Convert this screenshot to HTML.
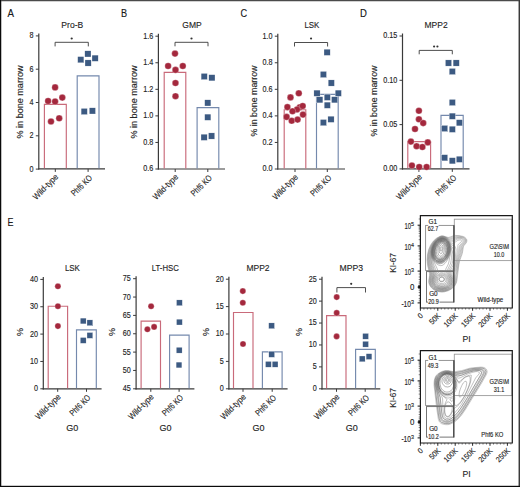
<!DOCTYPE html>
<html><head><meta charset="utf-8"><style>
html,body{margin:0;padding:0;background:#fff;}
#f{position:relative;width:520px;height:487px;overflow:hidden;background:#fff;}
svg{position:absolute;left:0;top:0;font-family:"Liberation Sans", sans-serif;}
text{stroke:#2a2a2a;stroke-width:0.14px;}
</style></head><body><div id="f">
<svg width="520" height="487" viewBox="0 0 520 487">
<rect x="0" y="0" width="520" height="487" fill="#fff"/>
<text x="72.30" y="431.20" font-size="9" text-anchor="middle" fill="#222" >G0</text>
<text x="165.50" y="431.20" font-size="9" text-anchor="middle" fill="#222" >G0</text>
<text x="258.50" y="431.20" font-size="9" text-anchor="middle" fill="#222" >G0</text>
<text x="351.80" y="431.20" font-size="9" text-anchor="middle" fill="#222" >G0</text>
<line x1="38.8" y1="33.400000000000006" x2="38.8" y2="169.5" stroke="#3a3a3a" stroke-width="1.2"/>
<line x1="38.199999999999996" y1="168.9" x2="105.0" y2="168.9" stroke="#3a3a3a" stroke-width="1.2"/>
<line x1="35.8" y1="169.1" x2="38.8" y2="169.1" stroke="#3a3a3a" stroke-width="1"/>
<text x="33.60" y="171.55" font-size="8.3" text-anchor="end" fill="#222" textLength="4.01" lengthAdjust="spacingAndGlyphs" >0</text>
<line x1="35.8" y1="135.8" x2="38.8" y2="135.8" stroke="#3a3a3a" stroke-width="1"/>
<text x="33.60" y="138.25" font-size="8.3" text-anchor="end" fill="#222" textLength="4.01" lengthAdjust="spacingAndGlyphs" >2</text>
<line x1="35.8" y1="102.5" x2="38.8" y2="102.5" stroke="#3a3a3a" stroke-width="1"/>
<text x="33.60" y="104.95" font-size="8.3" text-anchor="end" fill="#222" textLength="4.01" lengthAdjust="spacingAndGlyphs" >4</text>
<line x1="35.8" y1="69.2" x2="38.8" y2="69.2" stroke="#3a3a3a" stroke-width="1"/>
<text x="33.60" y="71.65" font-size="8.3" text-anchor="end" fill="#222" textLength="4.01" lengthAdjust="spacingAndGlyphs" >6</text>
<line x1="35.8" y1="35.900000000000006" x2="38.8" y2="35.900000000000006" stroke="#3a3a3a" stroke-width="1"/>
<text x="33.60" y="38.35" font-size="8.3" text-anchor="end" fill="#222" textLength="4.01" lengthAdjust="spacingAndGlyphs" >8</text>
<path d="M44.40 168.30 V104.40 H66.30 V168.30" fill="none" stroke="#C96A7A" stroke-width="1.15"/>
<path d="M77.20 168.30 V75.80 H99.00 V168.30" fill="none" stroke="#7489AD" stroke-width="1.15"/>
<line x1="55.3" y1="168.9" x2="55.3" y2="171.9" stroke="#3a3a3a" stroke-width="1"/>
<line x1="88.1" y1="168.9" x2="88.1" y2="171.9" stroke="#3a3a3a" stroke-width="1"/>
<circle cx="55.1" cy="87.4" r="3.3" fill="#A4283D" stroke="#fff" stroke-width="0.28"/>
<circle cx="48.1" cy="101.0" r="3.3" fill="#A4283D" stroke="#fff" stroke-width="0.28"/>
<circle cx="55.1" cy="101.5" r="3.3" fill="#A4283D" stroke="#fff" stroke-width="0.28"/>
<circle cx="62.3" cy="97.6" r="3.3" fill="#A4283D" stroke="#fff" stroke-width="0.28"/>
<circle cx="51.0" cy="121.5" r="3.3" fill="#A4283D" stroke="#fff" stroke-width="0.28"/>
<circle cx="59.2" cy="118.3" r="3.3" fill="#A4283D" stroke="#fff" stroke-width="0.28"/>
<rect x="84.80" y="50.80" width="6.2" height="6.2" fill="#3C5A82" stroke="#fff" stroke-width="0.28"/>
<rect x="77.70" y="56.60" width="6.2" height="6.2" fill="#3C5A82" stroke="#fff" stroke-width="0.28"/>
<rect x="92.00" y="55.10" width="6.2" height="6.2" fill="#3C5A82" stroke="#fff" stroke-width="0.28"/>
<rect x="85.00" y="59.90" width="6.2" height="6.2" fill="#3C5A82" stroke="#fff" stroke-width="0.28"/>
<rect x="81.10" y="108.40" width="6.2" height="6.2" fill="#3C5A82" stroke="#fff" stroke-width="0.28"/>
<rect x="89.30" y="107.80" width="6.2" height="6.2" fill="#3C5A82" stroke="#fff" stroke-width="0.28"/>
<path d="M55.1 46.4 V42.3 H88.3 V46.4" fill="none" stroke="#3a3a3a" stroke-width="0.9"/>
<circle cx="71.70" cy="38.5" r="1.1" fill="#333"/>
<text x="72.30" y="27.80" font-size="9.7" text-anchor="middle" fill="#222" textLength="21.9" lengthAdjust="spacingAndGlyphs" >Pro-B</text>
<text x="22.60" y="102.00" font-size="9" text-anchor="middle" fill="#222" textLength="73" lengthAdjust="spacingAndGlyphs" transform="rotate(-90 22.60 102.00)" >% in bone marrow</text>
<text x="58.90" y="177.50" font-size="8.7" text-anchor="end" fill="#222" textLength="32.0" lengthAdjust="spacingAndGlyphs" transform="rotate(-45 58.90 177.50)" >Wild-type</text>
<text x="92.70" y="178.50" font-size="8.7" text-anchor="end" fill="#222" textLength="25.6" lengthAdjust="spacingAndGlyphs" transform="rotate(-45 92.70 178.50)" >Phf6 KO</text>
<line x1="158.4" y1="33.69999999999999" x2="158.4" y2="169.6" stroke="#3a3a3a" stroke-width="1.2"/>
<line x1="157.8" y1="169.0" x2="225.0" y2="169.0" stroke="#3a3a3a" stroke-width="1.2"/>
<line x1="155.4" y1="169.0" x2="158.4" y2="169.0" stroke="#3a3a3a" stroke-width="1"/>
<text x="153.20" y="171.45" font-size="8.3" text-anchor="end" fill="#222" textLength="10.04" lengthAdjust="spacingAndGlyphs" >0.6</text>
<line x1="155.4" y1="142.44" x2="158.4" y2="142.44" stroke="#3a3a3a" stroke-width="1"/>
<text x="153.20" y="144.89" font-size="8.3" text-anchor="end" fill="#222" textLength="10.04" lengthAdjust="spacingAndGlyphs" >0.8</text>
<line x1="155.4" y1="115.88" x2="158.4" y2="115.88" stroke="#3a3a3a" stroke-width="1"/>
<text x="153.20" y="118.33" font-size="8.3" text-anchor="end" fill="#222" textLength="10.04" lengthAdjust="spacingAndGlyphs" >1.0</text>
<line x1="155.4" y1="89.32" x2="158.4" y2="89.32" stroke="#3a3a3a" stroke-width="1"/>
<text x="153.20" y="91.77" font-size="8.3" text-anchor="end" fill="#222" textLength="10.04" lengthAdjust="spacingAndGlyphs" >1.2</text>
<line x1="155.4" y1="62.760000000000005" x2="158.4" y2="62.760000000000005" stroke="#3a3a3a" stroke-width="1"/>
<text x="153.20" y="65.21" font-size="8.3" text-anchor="end" fill="#222" textLength="10.04" lengthAdjust="spacingAndGlyphs" >1.4</text>
<line x1="155.4" y1="36.19999999999999" x2="158.4" y2="36.19999999999999" stroke="#3a3a3a" stroke-width="1"/>
<text x="153.20" y="38.65" font-size="8.3" text-anchor="end" fill="#222" textLength="10.04" lengthAdjust="spacingAndGlyphs" >1.6</text>
<path d="M164.20 168.40 V72.40 H185.80 V168.40" fill="none" stroke="#C96A7A" stroke-width="1.15"/>
<path d="M197.10 168.40 V107.60 H218.80 V168.40" fill="none" stroke="#7489AD" stroke-width="1.15"/>
<line x1="175.2" y1="169.0" x2="175.2" y2="172.0" stroke="#3a3a3a" stroke-width="1"/>
<line x1="207.8" y1="169.0" x2="207.8" y2="172.0" stroke="#3a3a3a" stroke-width="1"/>
<circle cx="175" cy="53.6" r="3.3" fill="#A4283D" stroke="#fff" stroke-width="0.28"/>
<circle cx="168.1" cy="66" r="3.3" fill="#A4283D" stroke="#fff" stroke-width="0.28"/>
<circle cx="182.8" cy="66" r="3.3" fill="#A4283D" stroke="#fff" stroke-width="0.28"/>
<circle cx="175.5" cy="69.9" r="3.3" fill="#A4283D" stroke="#fff" stroke-width="0.28"/>
<circle cx="175.5" cy="83" r="3.3" fill="#A4283D" stroke="#fff" stroke-width="0.28"/>
<circle cx="175.5" cy="96.2" r="3.3" fill="#A4283D" stroke="#fff" stroke-width="0.28"/>
<rect x="201.10" y="73.40" width="6.2" height="6.2" fill="#3C5A82" stroke="#fff" stroke-width="0.28"/>
<rect x="208.80" y="74.70" width="6.2" height="6.2" fill="#3C5A82" stroke="#fff" stroke-width="0.28"/>
<rect x="204.70" y="99.80" width="6.2" height="6.2" fill="#3C5A82" stroke="#fff" stroke-width="0.28"/>
<rect x="204.70" y="114.10" width="6.2" height="6.2" fill="#3C5A82" stroke="#fff" stroke-width="0.28"/>
<rect x="201.00" y="134.20" width="6.2" height="6.2" fill="#3C5A82" stroke="#fff" stroke-width="0.28"/>
<rect x="208.50" y="132.90" width="6.2" height="6.2" fill="#3C5A82" stroke="#fff" stroke-width="0.28"/>
<path d="M175.0 46.3 V42.3 H208.0 V46.3" fill="none" stroke="#3a3a3a" stroke-width="0.9"/>
<circle cx="191.50" cy="38.5" r="1.1" fill="#333"/>
<text x="192.00" y="27.80" font-size="9.7" text-anchor="middle" fill="#222" textLength="19.4" lengthAdjust="spacingAndGlyphs" >GMP</text>
<text x="137.20" y="102.00" font-size="9" text-anchor="middle" fill="#222" textLength="73" lengthAdjust="spacingAndGlyphs" transform="rotate(-90 137.20 102.00)" >% in bone marrow</text>
<text x="178.80" y="177.60" font-size="8.7" text-anchor="end" fill="#222" textLength="32.0" lengthAdjust="spacingAndGlyphs" transform="rotate(-45 178.80 177.60)" >Wild-type</text>
<text x="212.40" y="178.60" font-size="8.7" text-anchor="end" fill="#222" textLength="25.6" lengthAdjust="spacingAndGlyphs" transform="rotate(-45 212.40 178.60)" >Phf6 KO</text>
<line x1="277.8" y1="33.69999999999999" x2="277.8" y2="169.6" stroke="#3a3a3a" stroke-width="1.2"/>
<line x1="277.2" y1="169.0" x2="345.0" y2="169.0" stroke="#3a3a3a" stroke-width="1.2"/>
<line x1="274.8" y1="169.0" x2="277.8" y2="169.0" stroke="#3a3a3a" stroke-width="1"/>
<text x="272.60" y="171.45" font-size="8.3" text-anchor="end" fill="#222" textLength="10.04" lengthAdjust="spacingAndGlyphs" >0.0</text>
<line x1="274.8" y1="142.44" x2="277.8" y2="142.44" stroke="#3a3a3a" stroke-width="1"/>
<text x="272.60" y="144.89" font-size="8.3" text-anchor="end" fill="#222" textLength="10.04" lengthAdjust="spacingAndGlyphs" >0.2</text>
<line x1="274.8" y1="115.88" x2="277.8" y2="115.88" stroke="#3a3a3a" stroke-width="1"/>
<text x="272.60" y="118.33" font-size="8.3" text-anchor="end" fill="#222" textLength="10.04" lengthAdjust="spacingAndGlyphs" >0.4</text>
<line x1="274.8" y1="89.32" x2="277.8" y2="89.32" stroke="#3a3a3a" stroke-width="1"/>
<text x="272.60" y="91.77" font-size="8.3" text-anchor="end" fill="#222" textLength="10.04" lengthAdjust="spacingAndGlyphs" >0.6</text>
<line x1="274.8" y1="62.75999999999999" x2="277.8" y2="62.75999999999999" stroke="#3a3a3a" stroke-width="1"/>
<text x="272.60" y="65.21" font-size="8.3" text-anchor="end" fill="#222" textLength="10.04" lengthAdjust="spacingAndGlyphs" >0.8</text>
<line x1="274.8" y1="36.19999999999999" x2="277.8" y2="36.19999999999999" stroke="#3a3a3a" stroke-width="1"/>
<text x="272.60" y="38.65" font-size="8.3" text-anchor="end" fill="#222" textLength="10.04" lengthAdjust="spacingAndGlyphs" >1.0</text>
<path d="M284.20 168.40 V109.70 H305.80 V168.40" fill="none" stroke="#C96A7A" stroke-width="1.15"/>
<path d="M316.50 168.40 V94.30 H338.20 V168.40" fill="none" stroke="#7489AD" stroke-width="1.15"/>
<line x1="295.0" y1="169.0" x2="295.0" y2="172.0" stroke="#3a3a3a" stroke-width="1"/>
<line x1="327.3" y1="169.0" x2="327.3" y2="172.0" stroke="#3a3a3a" stroke-width="1"/>
<circle cx="290.5" cy="97.4" r="3.3" fill="#A4283D" stroke="#fff" stroke-width="0.28"/>
<circle cx="298.8" cy="93.3" r="3.3" fill="#A4283D" stroke="#fff" stroke-width="0.28"/>
<circle cx="287.4" cy="107.1" r="3.3" fill="#A4283D" stroke="#fff" stroke-width="0.28"/>
<circle cx="299.8" cy="107.2" r="3.3" fill="#A4283D" stroke="#fff" stroke-width="0.28"/>
<circle cx="302.7" cy="106" r="3.3" fill="#A4283D" stroke="#fff" stroke-width="0.28"/>
<circle cx="297" cy="109.5" r="3.3" fill="#A4283D" stroke="#fff" stroke-width="0.28"/>
<circle cx="292.5" cy="111.3" r="3.3" fill="#A4283D" stroke="#fff" stroke-width="0.28"/>
<circle cx="286.6" cy="116.9" r="3.3" fill="#A4283D" stroke="#fff" stroke-width="0.28"/>
<circle cx="291.7" cy="120.8" r="3.3" fill="#A4283D" stroke="#fff" stroke-width="0.28"/>
<circle cx="297.6" cy="119.6" r="3.3" fill="#A4283D" stroke="#fff" stroke-width="0.28"/>
<circle cx="303" cy="114.6" r="3.3" fill="#A4283D" stroke="#fff" stroke-width="0.28"/>
<rect x="324.00" y="49.20" width="6.2" height="6.2" fill="#3C5A82" stroke="#fff" stroke-width="0.28"/>
<rect x="320.30" y="71.40" width="6.2" height="6.2" fill="#3C5A82" stroke="#fff" stroke-width="0.28"/>
<rect x="328.20" y="79.90" width="6.2" height="6.2" fill="#3C5A82" stroke="#fff" stroke-width="0.28"/>
<rect x="313.90" y="90.10" width="6.2" height="6.2" fill="#3C5A82" stroke="#fff" stroke-width="0.28"/>
<rect x="335.20" y="90.10" width="6.2" height="6.2" fill="#3C5A82" stroke="#fff" stroke-width="0.28"/>
<rect x="324.20" y="94.20" width="6.2" height="6.2" fill="#3C5A82" stroke="#fff" stroke-width="0.28"/>
<rect x="316.70" y="96.70" width="6.2" height="6.2" fill="#3C5A82" stroke="#fff" stroke-width="0.28"/>
<rect x="331.50" y="96.70" width="6.2" height="6.2" fill="#3C5A82" stroke="#fff" stroke-width="0.28"/>
<rect x="324.20" y="102.10" width="6.2" height="6.2" fill="#3C5A82" stroke="#fff" stroke-width="0.28"/>
<rect x="320.30" y="119.50" width="6.2" height="6.2" fill="#3C5A82" stroke="#fff" stroke-width="0.28"/>
<rect x="327.90" y="116.20" width="6.2" height="6.2" fill="#3C5A82" stroke="#fff" stroke-width="0.28"/>
<path d="M294.5 46.5 V42.5 H327.6 V46.5" fill="none" stroke="#3a3a3a" stroke-width="0.9"/>
<circle cx="311.05" cy="38.5" r="1.1" fill="#333"/>
<text x="311.90" y="27.80" font-size="9.7" text-anchor="middle" fill="#222" textLength="15.0" lengthAdjust="spacingAndGlyphs" >LSK</text>
<text x="256.70" y="101.00" font-size="9" text-anchor="middle" fill="#222" textLength="71" lengthAdjust="spacingAndGlyphs" transform="rotate(-90 256.70 101.00)" >% in bone marrow</text>
<text x="298.60" y="177.60" font-size="8.7" text-anchor="end" fill="#222" textLength="32.0" lengthAdjust="spacingAndGlyphs" transform="rotate(-45 298.60 177.60)" >Wild-type</text>
<text x="331.90" y="178.60" font-size="8.7" text-anchor="end" fill="#222" textLength="25.6" lengthAdjust="spacingAndGlyphs" transform="rotate(-45 331.90 178.60)" >Phf6 KO</text>
<line x1="402.5" y1="33.50000000000003" x2="402.5" y2="169.5" stroke="#3a3a3a" stroke-width="1.2"/>
<line x1="401.9" y1="168.9" x2="469.5" y2="168.9" stroke="#3a3a3a" stroke-width="1.2"/>
<line x1="399.5" y1="168.9" x2="402.5" y2="168.9" stroke="#3a3a3a" stroke-width="1"/>
<text x="397.30" y="171.35" font-size="8.3" text-anchor="end" fill="#222" textLength="14.05" lengthAdjust="spacingAndGlyphs" >0.00</text>
<line x1="399.5" y1="124.60000000000001" x2="402.5" y2="124.60000000000001" stroke="#3a3a3a" stroke-width="1"/>
<text x="397.30" y="127.05" font-size="8.3" text-anchor="end" fill="#222" textLength="14.05" lengthAdjust="spacingAndGlyphs" >0.05</text>
<line x1="399.5" y1="80.30000000000001" x2="402.5" y2="80.30000000000001" stroke="#3a3a3a" stroke-width="1"/>
<text x="397.30" y="82.75" font-size="8.3" text-anchor="end" fill="#222" textLength="14.05" lengthAdjust="spacingAndGlyphs" >0.10</text>
<line x1="399.5" y1="36.00000000000003" x2="402.5" y2="36.00000000000003" stroke="#3a3a3a" stroke-width="1"/>
<text x="397.30" y="38.45" font-size="8.3" text-anchor="end" fill="#222" textLength="14.05" lengthAdjust="spacingAndGlyphs" >0.15</text>
<path d="M407.80 168.30 V141.60 H430.60 V168.30" fill="none" stroke="#C96A7A" stroke-width="1.15"/>
<path d="M441.00 168.30 V115.40 H463.20 V168.30" fill="none" stroke="#7489AD" stroke-width="1.15"/>
<line x1="418.9" y1="168.9" x2="418.9" y2="171.9" stroke="#3a3a3a" stroke-width="1"/>
<line x1="452.3" y1="168.9" x2="452.3" y2="171.9" stroke="#3a3a3a" stroke-width="1"/>
<circle cx="418.9" cy="110.8" r="3.3" fill="#A4283D" stroke="#fff" stroke-width="0.28"/>
<circle cx="418.9" cy="119.3" r="3.3" fill="#A4283D" stroke="#fff" stroke-width="0.28"/>
<circle cx="423.2" cy="123.1" r="3.3" fill="#A4283D" stroke="#fff" stroke-width="0.28"/>
<circle cx="415" cy="129" r="3.3" fill="#A4283D" stroke="#fff" stroke-width="0.28"/>
<circle cx="410.9" cy="141.6" r="3.3" fill="#A4283D" stroke="#fff" stroke-width="0.28"/>
<circle cx="427.8" cy="142.4" r="3.3" fill="#A4283D" stroke="#fff" stroke-width="0.28"/>
<circle cx="416.6" cy="146.2" r="3.3" fill="#A4283D" stroke="#fff" stroke-width="0.28"/>
<circle cx="422.4" cy="147" r="3.3" fill="#A4283D" stroke="#fff" stroke-width="0.28"/>
<circle cx="411.9" cy="165.5" r="3.3" fill="#A4283D" stroke="#fff" stroke-width="0.28"/>
<circle cx="419.2" cy="167" r="3.3" fill="#A4283D" stroke="#fff" stroke-width="0.28"/>
<circle cx="426.6" cy="167" r="3.3" fill="#A4283D" stroke="#fff" stroke-width="0.28"/>
<rect x="445.40" y="59.90" width="6.2" height="6.2" fill="#3C5A82" stroke="#fff" stroke-width="0.28"/>
<rect x="453.10" y="59.90" width="6.2" height="6.2" fill="#3C5A82" stroke="#fff" stroke-width="0.28"/>
<rect x="449.20" y="68.40" width="6.2" height="6.2" fill="#3C5A82" stroke="#fff" stroke-width="0.28"/>
<rect x="449.20" y="99.40" width="6.2" height="6.2" fill="#3C5A82" stroke="#fff" stroke-width="0.28"/>
<rect x="449.20" y="113.10" width="6.2" height="6.2" fill="#3C5A82" stroke="#fff" stroke-width="0.28"/>
<rect x="456.30" y="119.70" width="6.2" height="6.2" fill="#3C5A82" stroke="#fff" stroke-width="0.28"/>
<rect x="441.50" y="125.40" width="6.2" height="6.2" fill="#3C5A82" stroke="#fff" stroke-width="0.28"/>
<rect x="449.20" y="126.20" width="6.2" height="6.2" fill="#3C5A82" stroke="#fff" stroke-width="0.28"/>
<rect x="441.50" y="154.70" width="6.2" height="6.2" fill="#3C5A82" stroke="#fff" stroke-width="0.28"/>
<rect x="449.20" y="157.70" width="6.2" height="6.2" fill="#3C5A82" stroke="#fff" stroke-width="0.28"/>
<rect x="456.30" y="156.20" width="6.2" height="6.2" fill="#3C5A82" stroke="#fff" stroke-width="0.28"/>
<path d="M419.2 54.3 V50.4 H452.3 V54.3" fill="none" stroke="#3a3a3a" stroke-width="0.9"/>
<circle cx="434.10" cy="46.5" r="1.1" fill="#333"/><circle cx="437.40" cy="46.5" r="1.1" fill="#333"/>
<text x="436.10" y="27.80" font-size="9.7" text-anchor="middle" fill="#222" textLength="23.1" lengthAdjust="spacingAndGlyphs" >MPP2</text>
<text x="376.70" y="101.00" font-size="9" text-anchor="middle" fill="#222" textLength="71" lengthAdjust="spacingAndGlyphs" transform="rotate(-90 376.70 101.00)" >% in bone marrow</text>
<text x="422.50" y="177.50" font-size="8.7" text-anchor="end" fill="#222" textLength="32.0" lengthAdjust="spacingAndGlyphs" transform="rotate(-45 422.50 177.50)" >Wild-type</text>
<text x="456.90" y="178.50" font-size="8.7" text-anchor="end" fill="#222" textLength="25.6" lengthAdjust="spacingAndGlyphs" transform="rotate(-45 456.90 178.50)" >Phf6 KO</text>
<line x1="43.3" y1="276.9" x2="43.3" y2="389.40000000000003" stroke="#3a3a3a" stroke-width="1.2"/>
<line x1="42.699999999999996" y1="388.8" x2="101.6" y2="388.8" stroke="#3a3a3a" stroke-width="1.2"/>
<line x1="40.3" y1="388.8" x2="43.3" y2="388.8" stroke="#3a3a3a" stroke-width="1"/>
<text x="38.10" y="391.25" font-size="8.3" text-anchor="end" fill="#222" textLength="4.01" lengthAdjust="spacingAndGlyphs" >0</text>
<line x1="40.3" y1="361.45" x2="43.3" y2="361.45" stroke="#3a3a3a" stroke-width="1"/>
<text x="38.10" y="363.90" font-size="8.3" text-anchor="end" fill="#222" textLength="8.03" lengthAdjust="spacingAndGlyphs" >10</text>
<line x1="40.3" y1="334.1" x2="43.3" y2="334.1" stroke="#3a3a3a" stroke-width="1"/>
<text x="38.10" y="336.55" font-size="8.3" text-anchor="end" fill="#222" textLength="8.03" lengthAdjust="spacingAndGlyphs" >20</text>
<line x1="40.3" y1="306.75" x2="43.3" y2="306.75" stroke="#3a3a3a" stroke-width="1"/>
<text x="38.10" y="309.20" font-size="8.3" text-anchor="end" fill="#222" textLength="8.03" lengthAdjust="spacingAndGlyphs" >30</text>
<line x1="40.3" y1="279.4" x2="43.3" y2="279.4" stroke="#3a3a3a" stroke-width="1"/>
<text x="38.10" y="281.85" font-size="8.3" text-anchor="end" fill="#222" textLength="8.03" lengthAdjust="spacingAndGlyphs" >40</text>
<path d="M48.20 388.20 V306.20 H67.60 V388.20" fill="none" stroke="#C96A7A" stroke-width="1.15"/>
<path d="M76.50 388.20 V329.90 H96.30 V388.20" fill="none" stroke="#7489AD" stroke-width="1.15"/>
<line x1="57.7" y1="388.8" x2="57.7" y2="391.8" stroke="#3a3a3a" stroke-width="1"/>
<line x1="86.5" y1="388.8" x2="86.5" y2="391.8" stroke="#3a3a3a" stroke-width="1"/>
<circle cx="57.9" cy="286.3" r="3.05" fill="#A4283D" stroke="#fff" stroke-width="0.28"/>
<circle cx="57.9" cy="306.2" r="3.05" fill="#A4283D" stroke="#fff" stroke-width="0.28"/>
<circle cx="57.9" cy="326.1" r="3.05" fill="#A4283D" stroke="#fff" stroke-width="0.28"/>
<rect x="80.30" y="318.10" width="5.8" height="5.8" fill="#3C5A82" stroke="#fff" stroke-width="0.28"/>
<rect x="87.00" y="319.90" width="5.8" height="5.8" fill="#3C5A82" stroke="#fff" stroke-width="0.28"/>
<rect x="87.00" y="332.50" width="5.8" height="5.8" fill="#3C5A82" stroke="#fff" stroke-width="0.28"/>
<rect x="80.30" y="337.50" width="5.8" height="5.8" fill="#3C5A82" stroke="#fff" stroke-width="0.28"/>
<text x="72.40" y="270.80" font-size="9.7" text-anchor="middle" fill="#222" textLength="15.0" lengthAdjust="spacingAndGlyphs" >LSK</text>
<text x="22.80" y="332.10" font-size="9" text-anchor="middle" fill="#222" transform="rotate(-90 22.80 332.10)" >%</text>
<text x="61.30" y="397.40" font-size="8.7" text-anchor="end" fill="#222" textLength="32.0" lengthAdjust="spacingAndGlyphs" transform="rotate(-45 61.30 397.40)" >Wild-type</text>
<text x="91.10" y="398.40" font-size="8.7" text-anchor="end" fill="#222" textLength="25.6" lengthAdjust="spacingAndGlyphs" transform="rotate(-45 91.10 398.40)" >Phf6 KO</text>
<line x1="136.1" y1="276.20000000000005" x2="136.1" y2="389.40000000000003" stroke="#3a3a3a" stroke-width="1.2"/>
<line x1="135.5" y1="388.8" x2="194.4" y2="388.8" stroke="#3a3a3a" stroke-width="1.2"/>
<line x1="133.1" y1="388.8" x2="136.1" y2="388.8" stroke="#3a3a3a" stroke-width="1"/>
<text x="130.90" y="391.25" font-size="8.3" text-anchor="end" fill="#222" textLength="8.03" lengthAdjust="spacingAndGlyphs" >45</text>
<line x1="133.1" y1="370.45" x2="136.1" y2="370.45" stroke="#3a3a3a" stroke-width="1"/>
<text x="130.90" y="372.90" font-size="8.3" text-anchor="end" fill="#222" textLength="8.03" lengthAdjust="spacingAndGlyphs" >50</text>
<line x1="133.1" y1="352.1" x2="136.1" y2="352.1" stroke="#3a3a3a" stroke-width="1"/>
<text x="130.90" y="354.55" font-size="8.3" text-anchor="end" fill="#222" textLength="8.03" lengthAdjust="spacingAndGlyphs" >55</text>
<line x1="133.1" y1="333.75" x2="136.1" y2="333.75" stroke="#3a3a3a" stroke-width="1"/>
<text x="130.90" y="336.20" font-size="8.3" text-anchor="end" fill="#222" textLength="8.03" lengthAdjust="spacingAndGlyphs" >60</text>
<line x1="133.1" y1="315.4" x2="136.1" y2="315.4" stroke="#3a3a3a" stroke-width="1"/>
<text x="130.90" y="317.85" font-size="8.3" text-anchor="end" fill="#222" textLength="8.03" lengthAdjust="spacingAndGlyphs" >65</text>
<line x1="133.1" y1="297.05" x2="136.1" y2="297.05" stroke="#3a3a3a" stroke-width="1"/>
<text x="130.90" y="299.50" font-size="8.3" text-anchor="end" fill="#222" textLength="8.03" lengthAdjust="spacingAndGlyphs" >70</text>
<line x1="133.1" y1="278.70000000000005" x2="136.1" y2="278.70000000000005" stroke="#3a3a3a" stroke-width="1"/>
<text x="130.90" y="281.15" font-size="8.3" text-anchor="end" fill="#222" textLength="8.03" lengthAdjust="spacingAndGlyphs" >75</text>
<path d="M141.10 388.20 V321.10 H160.50 V388.20" fill="none" stroke="#C96A7A" stroke-width="1.15"/>
<path d="M169.60 388.20 V335.10 H189.10 V388.20" fill="none" stroke="#7489AD" stroke-width="1.15"/>
<line x1="150.8" y1="388.8" x2="150.8" y2="391.8" stroke="#3a3a3a" stroke-width="1"/>
<line x1="179.1" y1="388.8" x2="179.1" y2="391.8" stroke="#3a3a3a" stroke-width="1"/>
<circle cx="151.1" cy="306.3" r="3.05" fill="#A4283D" stroke="#fff" stroke-width="0.28"/>
<circle cx="147.4" cy="329.3" r="3.05" fill="#A4283D" stroke="#fff" stroke-width="0.28"/>
<circle cx="154.1" cy="326.9" r="3.05" fill="#A4283D" stroke="#fff" stroke-width="0.28"/>
<rect x="176.50" y="299.90" width="5.8" height="5.8" fill="#3C5A82" stroke="#fff" stroke-width="0.28"/>
<rect x="176.50" y="319.20" width="5.8" height="5.8" fill="#3C5A82" stroke="#fff" stroke-width="0.28"/>
<rect x="176.30" y="347.30" width="5.8" height="5.8" fill="#3C5A82" stroke="#fff" stroke-width="0.28"/>
<rect x="176.10" y="362.10" width="5.8" height="5.8" fill="#3C5A82" stroke="#fff" stroke-width="0.28"/>
<text x="165.30" y="270.80" font-size="9.7" text-anchor="middle" fill="#222" textLength="27.1" lengthAdjust="spacingAndGlyphs" >LT-HSC</text>
<text x="115.30" y="332.10" font-size="9" text-anchor="middle" fill="#222" transform="rotate(-90 115.30 332.10)" >%</text>
<text x="154.40" y="397.40" font-size="8.7" text-anchor="end" fill="#222" textLength="32.0" lengthAdjust="spacingAndGlyphs" transform="rotate(-45 154.40 397.40)" >Wild-type</text>
<text x="183.70" y="398.40" font-size="8.7" text-anchor="end" fill="#222" textLength="25.6" lengthAdjust="spacingAndGlyphs" transform="rotate(-45 183.70 398.40)" >Phf6 KO</text>
<line x1="228.9" y1="276.70000000000005" x2="228.9" y2="389.40000000000003" stroke="#3a3a3a" stroke-width="1.2"/>
<line x1="228.3" y1="388.8" x2="287.6" y2="388.8" stroke="#3a3a3a" stroke-width="1.2"/>
<line x1="225.9" y1="388.8" x2="228.9" y2="388.8" stroke="#3a3a3a" stroke-width="1"/>
<text x="223.70" y="391.25" font-size="8.3" text-anchor="end" fill="#222" textLength="4.01" lengthAdjust="spacingAndGlyphs" >0</text>
<line x1="225.9" y1="361.40000000000003" x2="228.9" y2="361.40000000000003" stroke="#3a3a3a" stroke-width="1"/>
<text x="223.70" y="363.85" font-size="8.3" text-anchor="end" fill="#222" textLength="4.01" lengthAdjust="spacingAndGlyphs" >5</text>
<line x1="225.9" y1="334.0" x2="228.9" y2="334.0" stroke="#3a3a3a" stroke-width="1"/>
<text x="223.70" y="336.45" font-size="8.3" text-anchor="end" fill="#222" textLength="8.03" lengthAdjust="spacingAndGlyphs" >10</text>
<line x1="225.9" y1="306.6" x2="228.9" y2="306.6" stroke="#3a3a3a" stroke-width="1"/>
<text x="223.70" y="309.05" font-size="8.3" text-anchor="end" fill="#222" textLength="8.03" lengthAdjust="spacingAndGlyphs" >15</text>
<line x1="225.9" y1="279.20000000000005" x2="228.9" y2="279.20000000000005" stroke="#3a3a3a" stroke-width="1"/>
<text x="223.70" y="281.65" font-size="8.3" text-anchor="end" fill="#222" textLength="8.03" lengthAdjust="spacingAndGlyphs" >20</text>
<path d="M233.50 388.20 V312.50 H253.00 V388.20" fill="none" stroke="#C96A7A" stroke-width="1.15"/>
<path d="M262.40 388.20 V351.80 H282.10 V388.20" fill="none" stroke="#7489AD" stroke-width="1.15"/>
<line x1="243.0" y1="388.8" x2="243.0" y2="391.8" stroke="#3a3a3a" stroke-width="1"/>
<line x1="272.2" y1="388.8" x2="272.2" y2="391.8" stroke="#3a3a3a" stroke-width="1"/>
<circle cx="242.8" cy="291.1" r="3.05" fill="#A4283D" stroke="#fff" stroke-width="0.28"/>
<circle cx="242.8" cy="302.8" r="3.05" fill="#A4283D" stroke="#fff" stroke-width="0.28"/>
<circle cx="243.0" cy="344.0" r="3.05" fill="#A4283D" stroke="#fff" stroke-width="0.28"/>
<rect x="268.70" y="322.90" width="5.8" height="5.8" fill="#3C5A82" stroke="#fff" stroke-width="0.28"/>
<rect x="268.80" y="351.50" width="5.8" height="5.8" fill="#3C5A82" stroke="#fff" stroke-width="0.28"/>
<rect x="265.50" y="361.40" width="5.8" height="5.8" fill="#3C5A82" stroke="#fff" stroke-width="0.28"/>
<rect x="272.20" y="361.40" width="5.8" height="5.8" fill="#3C5A82" stroke="#fff" stroke-width="0.28"/>
<text x="258.00" y="270.80" font-size="9.7" text-anchor="middle" fill="#222" textLength="23.1" lengthAdjust="spacingAndGlyphs" >MPP2</text>
<text x="208.60" y="332.10" font-size="9" text-anchor="middle" fill="#222" transform="rotate(-90 208.60 332.10)" >%</text>
<text x="246.60" y="397.40" font-size="8.7" text-anchor="end" fill="#222" textLength="32.0" lengthAdjust="spacingAndGlyphs" transform="rotate(-45 246.60 397.40)" >Wild-type</text>
<text x="276.80" y="398.40" font-size="8.7" text-anchor="end" fill="#222" textLength="25.6" lengthAdjust="spacingAndGlyphs" transform="rotate(-45 276.80 398.40)" >Phf6 KO</text>
<line x1="322.0" y1="276.70000000000005" x2="322.0" y2="389.40000000000003" stroke="#3a3a3a" stroke-width="1.2"/>
<line x1="321.4" y1="388.8" x2="380.3" y2="388.8" stroke="#3a3a3a" stroke-width="1.2"/>
<line x1="319.0" y1="388.8" x2="322.0" y2="388.8" stroke="#3a3a3a" stroke-width="1"/>
<text x="316.80" y="391.25" font-size="8.3" text-anchor="end" fill="#222" textLength="4.01" lengthAdjust="spacingAndGlyphs" >0</text>
<line x1="319.0" y1="366.88" x2="322.0" y2="366.88" stroke="#3a3a3a" stroke-width="1"/>
<text x="316.80" y="369.33" font-size="8.3" text-anchor="end" fill="#222" textLength="4.01" lengthAdjust="spacingAndGlyphs" >5</text>
<line x1="319.0" y1="344.96000000000004" x2="322.0" y2="344.96000000000004" stroke="#3a3a3a" stroke-width="1"/>
<text x="316.80" y="347.41" font-size="8.3" text-anchor="end" fill="#222" textLength="8.03" lengthAdjust="spacingAndGlyphs" >10</text>
<line x1="319.0" y1="323.04" x2="322.0" y2="323.04" stroke="#3a3a3a" stroke-width="1"/>
<text x="316.80" y="325.49" font-size="8.3" text-anchor="end" fill="#222" textLength="8.03" lengthAdjust="spacingAndGlyphs" >15</text>
<line x1="319.0" y1="301.12" x2="322.0" y2="301.12" stroke="#3a3a3a" stroke-width="1"/>
<text x="316.80" y="303.57" font-size="8.3" text-anchor="end" fill="#222" textLength="8.03" lengthAdjust="spacingAndGlyphs" >20</text>
<line x1="319.0" y1="279.20000000000005" x2="322.0" y2="279.20000000000005" stroke="#3a3a3a" stroke-width="1"/>
<text x="316.80" y="281.65" font-size="8.3" text-anchor="end" fill="#222" textLength="8.03" lengthAdjust="spacingAndGlyphs" >25</text>
<path d="M326.60 388.20 V315.60 H346.00 V388.20" fill="none" stroke="#C96A7A" stroke-width="1.15"/>
<path d="M355.60 388.20 V349.30 H375.30 V388.20" fill="none" stroke="#7489AD" stroke-width="1.15"/>
<line x1="336.5" y1="388.8" x2="336.5" y2="391.8" stroke="#3a3a3a" stroke-width="1"/>
<line x1="365.2" y1="388.8" x2="365.2" y2="391.8" stroke="#3a3a3a" stroke-width="1"/>
<circle cx="336.7" cy="297.1" r="3.05" fill="#A4283D" stroke="#fff" stroke-width="0.28"/>
<circle cx="336.7" cy="312.9" r="3.05" fill="#A4283D" stroke="#fff" stroke-width="0.28"/>
<circle cx="336.6" cy="336.4" r="3.05" fill="#A4283D" stroke="#fff" stroke-width="0.28"/>
<rect x="362.70" y="333.40" width="5.8" height="5.8" fill="#3C5A82" stroke="#fff" stroke-width="0.28"/>
<rect x="362.70" y="341.30" width="5.8" height="5.8" fill="#3C5A82" stroke="#fff" stroke-width="0.28"/>
<rect x="359.30" y="356.00" width="5.8" height="5.8" fill="#3C5A82" stroke="#fff" stroke-width="0.28"/>
<rect x="366.10" y="353.70" width="5.8" height="5.8" fill="#3C5A82" stroke="#fff" stroke-width="0.28"/>
<path d="M336.9 292.5 V287.6 H365.5 V292.5" fill="none" stroke="#3a3a3a" stroke-width="0.9"/>
<circle cx="351.20" cy="283.8" r="1.1" fill="#333"/>
<text x="351.30" y="270.80" font-size="9.7" text-anchor="middle" fill="#222" textLength="23.5" lengthAdjust="spacingAndGlyphs" >MPP3</text>
<text x="301.60" y="332.10" font-size="9" text-anchor="middle" fill="#222" transform="rotate(-90 301.60 332.10)" >%</text>
<text x="340.10" y="397.40" font-size="8.7" text-anchor="end" fill="#222" textLength="32.0" lengthAdjust="spacingAndGlyphs" transform="rotate(-45 340.10 397.40)" >Wild-type</text>
<text x="369.80" y="398.40" font-size="8.7" text-anchor="end" fill="#222" textLength="25.6" lengthAdjust="spacingAndGlyphs" transform="rotate(-45 369.80 398.40)" >Phf6 KO</text>
<text x="0" y="0" font-size="11.2" fill="#111" transform="translate(7.6 16.75) scale(0.87 1)">A</text>
<text x="0" y="0" font-size="11.2" fill="#111" transform="translate(121.1 16.75) scale(0.82 1)">B</text>
<text x="0" y="0" font-size="11.2" fill="#111" transform="translate(240.4 16.75) scale(0.82 1)">C</text>
<text x="0" y="0" font-size="11.2" fill="#111" transform="translate(359.9 16.75) scale(0.85 1)">D</text>
<text x="0" y="0" font-size="11.2" fill="#111" transform="translate(7.5 225.7) scale(0.8 1)">E</text>
<g fill="none" stroke-width="0.4">
<path stroke="#444" d="M441.0 251.3 L440.5 251.0 L440.3 250.5 L440.2 248.8 L440.8 247.2 L441.5 246.7 L442.1 247.5 L442.2 249.0 L441.8 250.6 L441.0 251.3Z"/>
<path stroke="#444" d="M441.2 253.6 L440.5 253.7 L439.8 253.0 L439.3 251.5 L439.2 249.8 L439.4 247.8 L439.9 246.2 L440.8 245.1 L441.5 244.7 L442.2 245.0 L442.8 245.8 L443.2 248.5 L442.6 251.8 L442.0 252.9 L441.2 253.6Z"/>
<path stroke="#444" d="M441.0 256.3 L439.8 256.2 L438.7 255.0 L438.0 253.0 L437.9 250.2 L438.3 247.5 L439.2 245.2 L440.5 243.6 L441.8 243.2 L443.0 243.8 L443.8 245.0 L444.3 247.0 L444.4 249.5 L444.0 252.0 L443.3 254.0 L442.2 255.5 L441.0 256.3Z"/>
<path stroke="#444" d="M441.2 257.8 L440.2 257.9 L439.4 257.8 L437.8 256.5 L436.7 254.2 L436.4 251.5 L436.9 248.5 L438.3 245.2 L440.0 243.1 L440.9 242.5 L441.8 242.3 L443.2 242.9 L444.5 244.5 L445.4 247.2 L445.7 250.0 L445.3 252.5 L444.4 254.8 L442.9 256.8 L441.2 257.8Z"/>
<path stroke="#444" d="M441.0 258.8 L439.8 258.9 L438.8 258.6 L437.8 258.0 L436.8 257.0 L435.7 254.5 L435.4 251.5 L436.0 248.2 L437.8 244.8 L440.0 242.4 L441.0 241.9 L442.0 241.7 L443.0 242.0 L443.7 242.5 L445.3 244.5 L446.4 247.2 L446.7 250.2 L446.1 253.2 L444.9 255.8 L443.0 257.8 L441.0 258.8Z"/>
<path stroke="#444" d="M440.5 259.5 L439.2 259.4 L438.2 259.1 L437.1 258.2 L436.2 257.2 L435.5 256.0 L435.0 254.3 L434.8 251.0 L435.7 247.5 L437.6 244.2 L440.0 241.9 L441.2 241.4 L442.2 241.3 L443.2 241.6 L444.1 242.2 L446.0 244.8 L447.1 247.5 L447.2 250.8 L446.5 253.8 L445.0 256.5 L442.8 258.7 L440.5 259.5Z"/>
<path stroke="#444" d="M440.0 260.0 L438.8 259.8 L437.6 259.2 L436.5 258.4 L435.7 257.2 L434.6 254.2 L434.5 250.8 L435.5 247.0 L437.3 244.0 L438.7 242.5 L440.0 241.5 L441.2 241.0 L442.2 241.0 L443.2 241.2 L444.4 242.0 L445.6 243.2 L446.5 244.7 L447.5 247.6 L447.6 251.0 L446.7 254.2 L445.0 257.2 L443.8 258.5 L442.5 259.3 L441.2 259.8 L440.0 260.0Z"/>
<path stroke="#444" d="M440.2 260.5 L439.0 260.4 L437.8 260.0 L436.5 259.1 L435.5 257.9 L434.8 256.5 L434.2 254.8 L434.1 251.0 L435.0 247.2 L436.8 244.0 L438.2 242.5 L439.8 241.3 L441.0 240.7 L442.2 240.6 L443.2 240.8 L444.5 241.6 L445.7 242.8 L446.8 244.2 L447.9 247.2 L448.0 250.8 L447.1 254.5 L445.3 257.5 L443.0 259.6 L441.5 260.3 L440.2 260.5Z"/>
<path stroke="#444" d="M440.8 261.0 L439.2 261.0 L438.0 260.7 L436.8 260.0 L435.5 258.8 L434.6 257.2 L434.0 255.5 L433.6 253.5 L433.6 251.5 L434.5 247.5 L436.3 244.0 L437.9 242.2 L439.5 241.0 L441.0 240.3 L442.2 240.2 L443.5 240.5 L444.8 241.2 L446.0 242.4 L447.0 243.8 L448.2 246.8 L448.4 250.5 L447.6 254.2 L445.9 257.5 L443.5 259.8 L442.0 260.7 L440.8 261.0Z"/>
<path stroke="#444" d="M441.2 261.5 L439.5 261.7 L438.0 261.4 L436.5 260.6 L435.4 259.5 L434.4 258.0 L433.6 256.0 L433.3 254.0 L433.2 251.8 L433.4 249.8 L434.0 247.5 L434.9 245.5 L436.0 243.8 L437.5 242.1 L439.2 240.7 L440.8 240.0 L442.2 239.7 L443.5 240.0 L444.9 240.8 L446.2 242.0 L447.2 243.2 L448.6 246.5 L448.9 250.0 L448.2 254.0 L446.5 257.5 L445.3 259.0 L444.0 260.1 L442.8 260.9 L441.2 261.5Z"/>
<path stroke="#444" d="M442.2 281.3 L440.5 281.2 L439.8 280.7 L439.3 280.0 L439.2 279.2 L439.4 278.5 L439.9 277.8 L440.8 277.3 L441.8 277.1 L442.8 277.4 L443.6 278.0 L444.0 278.8 L444.1 279.5 L443.8 280.4 L443.1 281.0 L442.2 281.3Z"/>
<path stroke="#666" d="M440.5 261.8 L439.0 261.7 L437.5 261.3 L436.0 260.3 L434.9 259.0 L434.1 257.5 L433.4 255.5 L433.1 253.5 L433.2 251.2 L433.5 249.0 L434.2 247.0 L435.1 245.0 L436.3 243.2 L437.8 241.7 L439.5 240.5 L441.0 239.8 L442.5 239.7 L443.8 240.0 L445.2 240.9 L446.5 242.1 L447.5 243.5 L448.7 246.8 L448.9 250.8 L448.6 252.8 L447.9 255.0 L446.0 258.2 L443.5 260.6 L442.0 261.4 L440.5 261.8Z"/>
<path stroke="#666" d="M442.2 281.8 L441.2 281.8 L440.2 281.5 L439.3 280.8 L438.9 280.0 L438.8 279.0 L439.1 278.2 L439.8 277.5 L440.8 276.9 L442.0 276.8 L443.0 277.1 L443.9 277.8 L444.5 278.8 L444.5 279.8 L444.1 280.8 L443.2 281.4 L442.2 281.8Z"/>
<path stroke="#666" d="M440.2 262.3 L438.5 262.1 L437.0 261.6 L435.8 260.6 L434.6 259.2 L433.7 257.5 L433.1 255.5 L432.8 253.5 L432.9 251.2 L433.3 248.8 L434.0 246.8 L434.9 244.8 L436.2 243.0 L437.8 241.4 L439.5 240.1 L441.0 239.5 L442.5 239.4 L444.0 239.8 L445.5 240.7 L446.8 242.0 L447.9 243.5 L448.6 245.2 L449.1 247.0 L449.2 251.0 L448.9 253.0 L448.1 255.2 L446.1 258.8 L443.5 261.1 L442.0 261.9 L440.2 262.3Z"/>
<path stroke="#666" d="M442.8 283.6 L441.0 283.6 L439.5 283.0 L438.3 282.0 L437.6 280.8 L437.5 279.2 L438.0 277.8 L439.0 276.6 L440.5 275.8 L442.2 275.7 L443.8 276.2 L445.1 277.2 L445.9 278.8 L446.0 280.2 L445.5 281.8 L444.2 283.0 L442.8 283.6Z"/>
<path stroke="#666" d="M441.0 262.5 L439.2 262.7 L437.5 262.2 L436.0 261.3 L434.8 260.0 L433.8 258.5 L433.1 256.5 L432.7 254.2 L432.7 251.8 L433.0 249.5 L433.7 247.0 L434.6 245.0 L435.9 243.0 L437.5 241.3 L439.2 240.0 L441.0 239.3 L442.5 239.1 L444.0 239.5 L445.5 240.4 L446.8 241.6 L447.8 243.0 L448.7 244.8 L449.2 246.5 L449.5 250.5 L448.6 254.8 L446.7 258.5 L445.5 259.9 L444.0 261.2 L442.5 262.1 L441.0 262.5Z"/>
<path stroke="#666" d="M443.0 284.8 L441.0 284.8 L439.0 284.1 L437.5 282.8 L436.8 281.1 L436.7 279.2 L437.4 277.2 L438.8 275.8 L440.5 275.0 L442.5 274.9 L444.5 275.7 L446.0 277.1 L446.9 279.0 L447.0 281.0 L446.3 282.8 L445.0 284.0 L443.0 284.8Z"/>
<path stroke="#666" d="M441.0 263.1 L439.2 263.2 L437.8 262.8 L436.0 261.9 L434.8 260.6 L433.6 258.8 L432.9 256.8 L432.5 254.2 L432.4 252.0 L432.7 249.8 L433.4 247.2 L434.4 245.0 L435.6 243.0 L437.3 241.2 L439.2 239.8 L441.0 239.0 L442.5 238.9 L444.0 239.3 L445.5 240.1 L446.8 241.2 L448.0 242.8 L448.8 244.5 L449.4 246.2 L449.7 248.2 L449.7 250.5 L449.4 252.8 L448.8 255.0 L447.0 258.8 L445.7 260.2 L444.2 261.6 L442.5 262.6 L441.0 263.1Z"/>
<path stroke="#666" d="M443.5 285.8 L441.0 285.9 L438.8 285.2 L437.0 283.8 L435.9 281.8 L435.8 279.2 L436.6 277.0 L438.2 275.1 L440.5 274.0 L442.8 273.9 L445.0 274.9 L446.9 276.8 L447.9 279.0 L448.1 281.2 L447.3 283.2 L445.8 284.8 L443.5 285.8Z"/>
<path stroke="#666" d="M440.2 263.8 L438.5 263.6 L436.8 262.9 L435.2 261.7 L434.1 260.2 L433.1 258.2 L432.5 256.2 L432.2 253.8 L432.3 251.5 L432.6 249.2 L433.4 246.8 L434.3 244.8 L435.6 242.8 L437.2 241.0 L439.2 239.6 L441.0 238.8 L442.5 238.7 L444.0 239.1 L445.8 240.1 L447.2 241.5 L448.3 243.0 L449.2 244.8 L449.7 246.8 L450.0 249.0 L449.9 251.2 L448.9 255.8 L447.9 258.0 L446.7 259.8 L445.2 261.4 L443.5 262.7 L442.0 263.4 L440.2 263.8Z"/>
<path stroke="#666" d="M443.2 286.5 L440.5 286.5 L437.9 285.5 L436.0 283.8 L435.1 281.5 L435.2 278.8 L436.5 276.0 L438.5 273.9 L439.8 273.2 L441.0 272.8 L442.2 272.8 L443.5 273.1 L445.8 274.4 L447.8 277.0 L448.8 279.8 L448.7 282.2 L447.5 284.2 L445.6 285.8 L443.2 286.5Z"/>
<path stroke="#666" d="M442.0 265.5 L440.5 265.6 L438.5 265.0 L436.5 263.8 L435.0 262.3 L433.6 260.2 L432.8 258.2 L432.2 255.5 L432.0 253.0 L432.2 250.5 L432.8 247.8 L433.8 245.2 L435.0 243.2 L436.5 241.5 L438.5 239.8 L440.5 238.8 L442.2 238.5 L444.0 238.8 L445.5 239.6 L446.9 240.8 L448.1 242.2 L449.1 244.0 L449.7 245.8 L450.1 247.8 L450.3 250.0 L450.1 252.2 L449.6 254.8 L447.9 259.2 L446.7 261.2 L445.0 263.4 L443.2 264.9 L442.0 265.5Z"/>
<path stroke="#666" d="M442.8 287.3 L439.8 287.0 L437.0 285.8 L435.1 283.8 L434.6 282.5 L434.3 281.0 L434.4 279.5 L434.8 277.8 L436.5 274.6 L439.0 271.9 L440.2 271.1 L441.5 270.8 L442.8 271.0 L444.0 271.6 L446.8 274.2 L448.8 277.2 L449.7 280.2 L449.3 282.8 L447.9 285.0 L445.5 286.6 L442.8 287.3Z"/>
<path stroke="#666" d="M443.0 287.8 L440.0 287.6 L437.2 286.6 L435.2 284.9 L434.0 282.8 L433.7 280.5 L434.1 278.2 L435.0 275.9 L437.2 271.8 L437.6 270.0 L437.1 268.5 L432.9 259.5 L432.1 256.8 L431.8 253.8 L431.9 251.2 L432.4 248.5 L433.4 245.8 L434.7 243.5 L436.3 241.5 L438.2 239.8 L440.5 238.6 L442.2 238.3 L443.8 238.5 L445.5 239.4 L447.0 240.6 L448.2 242.0 L449.1 243.5 L449.9 245.5 L450.4 247.8 L450.6 250.0 L450.3 253.5 L448.9 262.0 L448.0 264.8 L445.9 268.8 L445.7 270.0 L446.2 271.8 L448.8 275.9 L449.8 278.0 L450.3 280.0 L450.2 282.0 L449.4 284.0 L447.8 285.9 L445.5 287.2 L443.0 287.8Z"/>
<path stroke="#666" d="M443.0 288.3 L439.8 288.1 L437.0 287.0 L434.8 285.2 L433.5 283.0 L433.2 281.0 L433.3 279.0 L433.9 277.0 L435.7 272.8 L435.9 271.0 L435.6 269.5 L433.8 265.0 L432.4 259.5 L431.8 256.8 L431.6 254.0 L431.8 251.0 L432.3 248.2 L433.4 245.5 L434.6 243.2 L436.3 241.2 L438.2 239.6 L440.5 238.4 L442.2 238.1 L444.2 238.5 L446.2 239.7 L447.9 241.2 L449.3 243.5 L450.3 246.0 L450.8 248.5 L451.4 257.2 L451.2 260.2 L450.7 263.0 L449.8 265.2 L447.9 269.0 L447.4 270.8 L447.9 272.8 L449.9 276.8 L450.7 278.8 L451.0 280.8 L450.7 282.5 L449.8 284.6 L448.0 286.4 L445.8 287.6 L443.0 288.3Z"/>
<path stroke="#666" d="M442.0 288.8 L439.0 288.4 L436.2 287.1 L434.1 285.2 L433.0 283.0 L432.6 281.2 L432.8 279.2 L434.6 273.5 L434.8 271.5 L432.4 263.8 L431.5 257.5 L431.3 254.0 L431.6 251.0 L432.1 248.2 L433.2 245.5 L434.4 243.2 L436.2 241.0 L438.2 239.4 L440.2 238.3 L442.2 237.9 L444.2 238.3 L446.2 239.4 L447.9 241.0 L449.4 243.0 L450.6 245.8 L452.5 252.0 L452.9 254.2 L453.0 257.0 L452.8 260.8 L452.2 263.5 L451.3 265.8 L449.2 269.5 L448.7 271.2 L449.0 273.2 L450.8 277.2 L451.5 279.2 L451.6 281.2 L451.2 283.0 L449.9 285.2 L447.8 287.1 L445.0 288.3 L442.0 288.8Z"/>
<path stroke="#666" d="M444.0 289.0 L440.5 289.1 L437.0 288.1 L434.4 286.2 L432.7 283.8 L432.2 282.0 L432.2 280.0 L433.7 274.0 L433.9 272.0 L433.7 270.5 L431.7 264.5 L431.1 258.8 L431.0 254.2 L431.3 251.0 L432.1 247.8 L433.3 244.8 L435.1 242.0 L437.2 239.9 L439.8 238.3 L442.0 237.7 L443.5 237.9 L445.2 238.6 L447.0 239.8 L448.5 241.2 L449.8 243.2 L451.8 246.9 L453.6 249.2 L454.2 250.8 L454.4 252.8 L454.1 259.8 L453.5 264.0 L452.7 266.2 L450.4 270.0 L449.8 271.8 L450.1 273.8 L452.0 279.0 L452.2 280.8 L452.0 282.5 L450.9 284.8 L449.1 286.8 L446.8 288.2 L444.0 289.0Z"/>
<path stroke="#666" d="M443.2 289.5 L439.8 289.4 L436.5 288.3 L434.0 286.5 L432.3 284.0 L431.8 282.2 L431.7 280.2 L433.1 274.2 L433.2 272.2 L431.1 265.0 L430.5 259.8 L430.7 254.8 L431.1 251.0 L431.9 247.8 L433.1 244.8 L434.9 242.0 L437.2 239.7 L439.8 238.1 L442.2 237.5 L444.2 237.9 L446.5 239.1 L448.6 241.0 L451.5 244.8 L454.9 246.2 L455.7 247.8 L456.1 250.0 L454.5 265.0 L453.6 267.5 L451.4 270.8 L450.9 272.2 L451.0 274.0 L452.8 279.2 L452.8 281.0 L452.5 282.8 L451.2 285.2 L449.0 287.4 L446.2 288.8 L443.2 289.5Z"/>
<path stroke="#7a7a7a" d="M444.2 289.8 L440.5 289.9 L437.0 289.0 L434.0 287.1 L432.8 285.8 L432.0 284.5 L431.3 282.5 L431.2 280.5 L432.5 274.5 L432.6 272.5 L430.6 265.5 L429.9 260.8 L430.0 256.8 L430.6 251.8 L431.6 248.0 L432.9 244.8 L434.9 241.8 L437.0 239.6 L439.8 237.9 L442.0 237.3 L444.0 237.6 L446.2 238.7 L447.9 240.0 L450.8 242.9 L451.8 243.4 L453.0 243.3 L454.2 242.8 L457.2 240.7 L459.0 240.0 L460.8 240.0 L461.4 240.5 L461.6 241.0 L461.1 242.0 L458.6 244.0 L457.9 245.2 L457.6 250.5 L456.3 257.0 L455.2 266.2 L454.2 269.0 L452.5 271.6 L452.1 272.8 L452.1 274.2 L453.4 279.5 L453.4 281.2 L453.0 283.0 L451.8 285.2 L449.8 287.4 L447.2 288.9 L444.2 289.8Z"/>
<path stroke="#7a7a7a" d="M443.2 290.3 L439.2 290.0 L437.2 289.5 L435.5 288.6 L434.0 287.6 L432.6 286.2 L431.7 284.8 L431.1 283.2 L430.8 281.8 L430.8 280.0 L431.9 274.8 L432.0 273.0 L431.7 271.2 L429.9 265.0 L429.4 259.2 L429.9 253.8 L431.4 247.8 L433.1 244.0 L435.1 241.2 L437.8 238.9 L440.8 237.3 L442.8 237.1 L444.8 237.7 L447.2 239.1 L450.2 241.6 L451.2 242.0 L452.8 241.6 L456.1 239.8 L457.8 239.1 L459.8 238.8 L461.5 239.0 L462.9 240.0 L463.1 241.2 L462.4 242.5 L460.0 244.8 L459.2 246.5 L458.6 251.2 L456.9 258.2 L455.7 267.5 L455.0 269.9 L453.5 272.8 L453.3 273.8 L454.1 279.8 L453.6 283.0 L452.2 285.5 L449.8 287.9 L446.8 289.5 L443.2 290.3Z"/>
<path stroke="#7a7a7a" d="M443.8 290.5 L441.5 290.6 L439.5 290.4 L437.5 289.9 L435.5 289.0 L433.9 288.0 L432.5 286.7 L431.4 285.0 L430.7 283.5 L430.4 282.0 L430.4 280.2 L431.4 275.0 L431.5 273.0 L429.4 265.0 L428.9 259.2 L429.4 254.0 L430.9 248.2 L432.6 244.5 L434.8 241.2 L437.5 238.8 L440.8 237.1 L442.5 236.9 L444.5 237.3 L446.5 238.3 L449.8 240.6 L450.8 240.9 L452.0 240.7 L455.3 239.0 L457.2 238.3 L459.8 238.1 L462.0 238.4 L463.6 239.5 L464.0 240.2 L464.1 241.2 L463.4 242.5 L460.8 245.2 L460.1 246.8 L459.5 251.5 L457.5 258.8 L456.2 268.5 L454.4 274.2 L454.7 280.0 L454.1 283.0 L452.5 285.8 L450.2 288.0 L447.2 289.6 L443.8 290.5Z"/>
<path stroke="#7a7a7a" d="M444.5 290.8 L442.2 291.0 L440.0 290.9 L437.8 290.4 L435.8 289.6 L434.0 288.5 L432.5 287.2 L431.3 285.8 L430.4 284.0 L430.0 282.2 L430.0 280.5 L431.0 275.0 L431.0 273.2 L428.9 265.2 L428.4 259.8 L428.8 254.5 L430.1 249.5 L431.8 245.2 L434.1 241.8 L437.0 238.9 L440.2 237.1 L442.0 236.7 L443.8 236.8 L445.8 237.6 L449.0 239.5 L450.2 239.9 L451.5 239.6 L454.8 238.1 L456.8 237.6 L459.8 237.4 L462.2 237.8 L463.5 238.4 L464.5 239.2 L464.9 240.2 L464.9 241.2 L464.2 242.8 L461.7 245.5 L461.1 247.0 L460.3 252.0 L458.6 257.5 L457.9 260.2 L456.8 268.8 L455.4 274.8 L455.3 280.0 L454.8 282.8 L453.3 285.5 L451.0 287.9 L448.0 289.7 L444.5 290.8Z"/>
<path stroke="#7a7a7a" d="M443.2 291.3 L441.0 291.3 L438.8 291.0 L436.8 290.4 L434.8 289.4 L433.2 288.4 L431.8 287.0 L430.7 285.5 L430.0 283.8 L429.6 280.5 L430.5 275.2 L430.6 273.2 L428.5 265.5 L428.0 259.8 L428.4 254.2 L429.8 249.0 L431.9 244.5 L434.1 241.2 L437.0 238.6 L440.2 236.8 L442.0 236.4 L443.8 236.6 L448.5 238.7 L449.8 239.0 L451.0 238.7 L454.5 237.3 L456.5 236.9 L460.0 236.9 L462.8 237.4 L464.0 238.0 L465.1 239.0 L465.6 240.0 L465.6 241.2 L464.9 242.8 L462.7 245.2 L462.0 246.5 L460.9 252.8 L458.7 259.2 L457.2 269.6 L456.2 275.2 L455.8 280.8 L455.2 283.0 L453.5 286.0 L450.8 288.5 L447.2 290.4 L443.2 291.3Z"/>
<path stroke="#7a7a7a" d="M444.2 291.5 L441.8 291.7 L439.5 291.5 L437.2 290.9 L435.2 290.1 L433.2 288.9 L431.8 287.6 L430.5 286.0 L429.7 284.2 L429.2 282.5 L429.1 280.8 L430.0 275.5 L430.1 273.5 L428.1 265.8 L427.5 260.0 L427.9 254.5 L429.1 249.5 L431.1 245.0 L433.7 241.2 L436.5 238.6 L440.0 236.6 L441.8 236.1 L443.2 236.2 L447.8 237.8 L449.0 238.1 L450.5 237.8 L454.0 236.4 L455.8 236.1 L459.5 236.2 L462.8 236.9 L464.5 237.7 L465.7 238.8 L466.3 240.0 L466.3 241.2 L465.7 242.8 L463.4 245.5 L462.8 246.8 L461.7 253.2 L459.2 260.2 L456.9 275.2 L456.4 280.5 L455.8 283.0 L454.2 286.0 L451.5 288.5 L448.2 290.4 L444.2 291.5Z"/>
<path stroke="#7a7a7a" d="M444.5 291.8 L442.2 292.0 L439.8 291.8 L437.5 291.3 L435.0 290.4 L433.0 289.1 L431.5 287.8 L430.3 286.2 L429.4 284.5 L428.9 282.8 L428.8 280.8 L429.6 275.5 L429.6 273.5 L427.7 265.8 L427.1 260.2 L427.5 254.8 L428.7 249.5 L430.6 245.0 L433.2 241.2 L436.2 238.4 L440.0 236.3 L441.5 235.9 L443.0 235.9 L447.2 237.2 L448.5 237.4 L450.0 237.1 L453.5 235.7 L455.2 235.4 L459.0 235.6 L462.8 236.4 L464.7 237.2 L466.0 238.4 L466.8 239.8 L466.9 241.2 L466.1 243.0 L464.1 245.5 L463.4 246.8 L462.3 253.5 L459.5 261.2 L458.9 264.5 L456.9 280.5 L456.3 283.0 L454.7 286.0 L452.2 288.5 L448.5 290.6 L444.5 291.8Z"/>
</g>
<rect x="454.3" y="219.2" width="57.6" height="41.4" fill="none" stroke="#9a9a9a" stroke-width="0.9"/>
<rect x="425.6" y="225.4" width="28.3" height="45.1" fill="none" stroke="#8a8a8a" stroke-width="0.9"/>
<rect x="426.5" y="271.6" width="27.0" height="30.5" fill="none" stroke="#666" stroke-width="0.9"/>
<line x1="453.9" y1="225.2" x2="453.9" y2="302.4" stroke="#444" stroke-width="1.3"/>
<rect x="428.2" y="219.7" width="10.4" height="12.0" fill="#fff"/>
<rect x="428.2" y="298.8" width="11.3" height="5.5" fill="#fff"/>
<path d="M420.4 215.6 H512.3 V308.0 H420.4 Z" fill="none" stroke="#1a1a1a" stroke-width="1.2"/>
<line x1="417.59999999999997" y1="225.2" x2="420.4" y2="225.2" stroke="#111" stroke-width="1"/>
<text x="411.0" y="228.8" font-size="8.4" text-anchor="end" fill="#222" textLength="6.6" lengthAdjust="spacingAndGlyphs">10</text>
<text x="410.9" y="226.2" font-size="5.4" text-anchor="start" fill="#222">5</text>
<line x1="417.59999999999997" y1="245.9" x2="420.4" y2="245.9" stroke="#111" stroke-width="1"/>
<text x="411.0" y="249.5" font-size="8.4" text-anchor="end" fill="#222" textLength="6.6" lengthAdjust="spacingAndGlyphs">10</text>
<text x="410.9" y="246.9" font-size="5.4" text-anchor="start" fill="#222">4</text>
<line x1="417.59999999999997" y1="271.1" x2="420.4" y2="271.1" stroke="#111" stroke-width="1"/>
<text x="411.0" y="274.7" font-size="8.4" text-anchor="end" fill="#222" textLength="6.6" lengthAdjust="spacingAndGlyphs">10</text>
<text x="410.9" y="272.1" font-size="5.4" text-anchor="start" fill="#222">3</text>
<line x1="417.59999999999997" y1="287.1" x2="420.4" y2="287.1" stroke="#111" stroke-width="1"/>
<text x="414.4" y="290.3" font-size="8.4" text-anchor="end" fill="#222" textLength="4.4" lengthAdjust="spacingAndGlyphs">0</text>
<line x1="417.59999999999997" y1="302.9" x2="420.4" y2="302.9" stroke="#111" stroke-width="1"/>
<text x="411.0" y="306.5" font-size="8.4" text-anchor="end" fill="#222" textLength="9.6" lengthAdjust="spacingAndGlyphs">-10</text>
<text x="410.9" y="303.9" font-size="5.4" text-anchor="start" fill="#222">3</text>
<rect x="418.2" y="285.3" width="2.2" height="3.3" fill="#111"/>
<line x1="418.7" y1="239.7" x2="420.4" y2="239.7" stroke="#222" stroke-width="0.55"/>
<line x1="418.7" y1="236.0" x2="420.4" y2="236.0" stroke="#222" stroke-width="0.55"/>
<line x1="418.7" y1="233.4" x2="420.4" y2="233.4" stroke="#222" stroke-width="0.55"/>
<line x1="418.7" y1="231.4" x2="420.4" y2="231.4" stroke="#222" stroke-width="0.55"/>
<line x1="418.7" y1="229.8" x2="420.4" y2="229.8" stroke="#222" stroke-width="0.55"/>
<line x1="418.7" y1="228.4" x2="420.4" y2="228.4" stroke="#222" stroke-width="0.55"/>
<line x1="418.7" y1="227.2" x2="420.4" y2="227.2" stroke="#222" stroke-width="0.55"/>
<line x1="418.7" y1="226.1" x2="420.4" y2="226.1" stroke="#222" stroke-width="0.55"/>
<line x1="418.7" y1="263.5" x2="420.4" y2="263.5" stroke="#222" stroke-width="0.55"/>
<line x1="418.7" y1="259.1" x2="420.4" y2="259.1" stroke="#222" stroke-width="0.55"/>
<line x1="418.7" y1="255.9" x2="420.4" y2="255.9" stroke="#222" stroke-width="0.55"/>
<line x1="418.7" y1="253.5" x2="420.4" y2="253.5" stroke="#222" stroke-width="0.55"/>
<line x1="418.7" y1="251.5" x2="420.4" y2="251.5" stroke="#222" stroke-width="0.55"/>
<line x1="418.7" y1="249.8" x2="420.4" y2="249.8" stroke="#222" stroke-width="0.55"/>
<line x1="418.7" y1="248.3" x2="420.4" y2="248.3" stroke="#222" stroke-width="0.55"/>
<line x1="418.7" y1="247.1" x2="420.4" y2="247.1" stroke="#222" stroke-width="0.55"/>
<line x1="418.7" y1="219.0" x2="420.4" y2="219.0" stroke="#222" stroke-width="0.55"/>
<line x1="418.7" y1="274.0" x2="420.4" y2="274.0" stroke="#222" stroke-width="0.55"/>
<line x1="418.7" y1="277.0" x2="420.4" y2="277.0" stroke="#222" stroke-width="0.55"/>
<line x1="418.7" y1="279.5" x2="420.4" y2="279.5" stroke="#222" stroke-width="0.55"/>
<line x1="418.7" y1="282.0" x2="420.4" y2="282.0" stroke="#222" stroke-width="0.55"/>
<line x1="418.7" y1="283.8" x2="420.4" y2="283.8" stroke="#222" stroke-width="0.55"/>
<line x1="418.7" y1="290.2" x2="420.4" y2="290.2" stroke="#222" stroke-width="0.55"/>
<line x1="418.7" y1="292.5" x2="420.4" y2="292.5" stroke="#222" stroke-width="0.55"/>
<line x1="418.7" y1="295.5" x2="420.4" y2="295.5" stroke="#222" stroke-width="0.55"/>
<line x1="418.7" y1="298.6" x2="420.4" y2="298.6" stroke="#222" stroke-width="0.55"/>
<line x1="418.7" y1="300.8" x2="420.4" y2="300.8" stroke="#222" stroke-width="0.55"/>
<line x1="420.4" y1="308.0" x2="420.4" y2="310.8" stroke="#111" stroke-width="0.9"/>
<text x="423.6" y="316.2" font-size="7.8" text-anchor="end" fill="#222" textLength="3.90" lengthAdjust="spacingAndGlyphs" transform="rotate(-45 423.6 316.2)">0</text>
<line x1="423.9" y1="308.0" x2="423.9" y2="309.6" stroke="#222" stroke-width="0.55"/>
<line x1="427.4" y1="308.0" x2="427.4" y2="309.6" stroke="#222" stroke-width="0.55"/>
<line x1="430.8" y1="308.0" x2="430.8" y2="309.6" stroke="#222" stroke-width="0.55"/>
<line x1="434.3" y1="308.0" x2="434.3" y2="309.6" stroke="#222" stroke-width="0.55"/>
<line x1="437.8" y1="308.0" x2="437.8" y2="310.8" stroke="#111" stroke-width="0.9"/>
<text x="441.0" y="316.2" font-size="7.8" text-anchor="end" fill="#222" textLength="12.49" lengthAdjust="spacingAndGlyphs" transform="rotate(-45 441.0 316.2)">50K</text>
<line x1="441.3" y1="308.0" x2="441.3" y2="309.6" stroke="#222" stroke-width="0.55"/>
<line x1="444.8" y1="308.0" x2="444.8" y2="309.6" stroke="#222" stroke-width="0.55"/>
<line x1="448.2" y1="308.0" x2="448.2" y2="309.6" stroke="#222" stroke-width="0.55"/>
<line x1="451.7" y1="308.0" x2="451.7" y2="309.6" stroke="#222" stroke-width="0.55"/>
<line x1="455.2" y1="308.0" x2="455.2" y2="310.8" stroke="#111" stroke-width="0.9"/>
<text x="458.4" y="316.2" font-size="7.8" text-anchor="end" fill="#222" textLength="16.39" lengthAdjust="spacingAndGlyphs" transform="rotate(-45 458.4 316.2)">100K</text>
<line x1="458.7" y1="308.0" x2="458.7" y2="309.6" stroke="#222" stroke-width="0.55"/>
<line x1="462.2" y1="308.0" x2="462.2" y2="309.6" stroke="#222" stroke-width="0.55"/>
<line x1="465.6" y1="308.0" x2="465.6" y2="309.6" stroke="#222" stroke-width="0.55"/>
<line x1="469.1" y1="308.0" x2="469.1" y2="309.6" stroke="#222" stroke-width="0.55"/>
<line x1="472.6" y1="308.0" x2="472.6" y2="310.8" stroke="#111" stroke-width="0.9"/>
<text x="475.8" y="316.2" font-size="7.8" text-anchor="end" fill="#222" textLength="16.39" lengthAdjust="spacingAndGlyphs" transform="rotate(-45 475.8 316.2)">150K</text>
<line x1="476.1" y1="308.0" x2="476.1" y2="309.6" stroke="#222" stroke-width="0.55"/>
<line x1="479.6" y1="308.0" x2="479.6" y2="309.6" stroke="#222" stroke-width="0.55"/>
<line x1="483.0" y1="308.0" x2="483.0" y2="309.6" stroke="#222" stroke-width="0.55"/>
<line x1="486.5" y1="308.0" x2="486.5" y2="309.6" stroke="#222" stroke-width="0.55"/>
<line x1="490.0" y1="308.0" x2="490.0" y2="310.8" stroke="#111" stroke-width="0.9"/>
<text x="493.2" y="316.2" font-size="7.8" text-anchor="end" fill="#222" textLength="16.39" lengthAdjust="spacingAndGlyphs" transform="rotate(-45 493.2 316.2)">200K</text>
<line x1="493.5" y1="308.0" x2="493.5" y2="309.6" stroke="#222" stroke-width="0.55"/>
<line x1="497.0" y1="308.0" x2="497.0" y2="309.6" stroke="#222" stroke-width="0.55"/>
<line x1="500.4" y1="308.0" x2="500.4" y2="309.6" stroke="#222" stroke-width="0.55"/>
<line x1="503.9" y1="308.0" x2="503.9" y2="309.6" stroke="#222" stroke-width="0.55"/>
<line x1="507.4" y1="308.0" x2="507.4" y2="310.8" stroke="#111" stroke-width="0.9"/>
<text x="510.6" y="316.2" font-size="7.8" text-anchor="end" fill="#222" textLength="16.39" lengthAdjust="spacingAndGlyphs" transform="rotate(-45 510.6 316.2)">250K</text>
<line x1="510.9" y1="308.0" x2="510.9" y2="309.6" stroke="#222" stroke-width="0.55"/>
<text x="432.7" y="223.9" font-size="6.4" text-anchor="middle" fill="#222">G1</text>
<text x="433.1" y="231.3" font-size="6.4" text-anchor="middle" fill="#222" textLength="10.6" lengthAdjust="spacingAndGlyphs">62.7</text>
<text x="499.3" y="249.2" font-size="6.4" text-anchor="middle" fill="#222" textLength="19.6" lengthAdjust="spacingAndGlyphs">G2\S\M</text>
<text x="499.0" y="257.0" font-size="6.4" text-anchor="middle" fill="#222" textLength="10.6" lengthAdjust="spacingAndGlyphs">10.0</text>
<text x="433.4" y="296.4" font-size="6.4" text-anchor="middle" fill="#222">G0</text>
<text x="433.6" y="303.6" font-size="6.4" text-anchor="middle" fill="#222" textLength="10.6" lengthAdjust="spacingAndGlyphs">20.9</text>
<text x="503.3" y="302.0" font-size="6.4" text-anchor="end" fill="#222" textLength="25.7" lengthAdjust="spacingAndGlyphs">Wild-type</text>
<text x="395.8" y="263" font-size="9.8" text-anchor="middle" fill="#222" textLength="19.6" lengthAdjust="spacingAndGlyphs" transform="rotate(-90 395.8 263)">KI-67</text>
<text x="466.6" y="342.4" font-size="9.8" text-anchor="middle" fill="#222" textLength="8.2" lengthAdjust="spacingAndGlyphs">PI</text>
<g fill="none" stroke-width="0.4">
<path stroke="#444" d="M448.2 381.0 L447.2 381.2 L446.4 380.5 L446.3 379.5 L446.9 378.8 L448.0 378.7 L448.6 379.2 L448.8 380.2 L448.2 381.0Z"/>
<path stroke="#444" d="M448.2 382.3 L447.2 382.4 L446.5 382.1 L445.8 381.5 L445.3 380.8 L445.2 379.8 L445.4 379.0 L445.9 378.2 L446.8 377.7 L447.8 377.6 L448.5 377.8 L449.2 378.4 L449.7 379.2 L449.8 380.2 L449.7 381.0 L449.1 381.8 L448.2 382.3Z"/>
<path stroke="#444" d="M448.2 384.0 L446.8 384.0 L445.5 383.4 L444.5 382.5 L443.9 381.0 L443.8 379.5 L444.5 378.0 L445.5 377.0 L446.8 376.5 L448.2 376.5 L449.5 377.0 L450.5 378.1 L451.1 379.5 L451.1 381.0 L450.5 382.5 L449.5 383.5 L448.2 384.0Z"/>
<path stroke="#444" d="M447.8 387.0 L445.5 386.7 L443.8 385.5 L442.4 383.5 L441.9 381.2 L442.3 379.0 L443.5 377.0 L445.2 375.7 L447.2 375.2 L449.2 375.6 L451.0 376.8 L452.2 378.5 L452.7 380.8 L452.4 383.0 L451.2 385.1 L449.8 386.4 L447.8 387.0Z"/>
<path stroke="#444" d="M448.2 392.0 L446.8 392.1 L445.2 391.8 L444.0 391.2 L442.8 390.2 L441.7 389.0 L440.9 387.5 L440.0 384.0 L440.2 380.5 L440.7 379.0 L441.6 377.5 L442.7 376.2 L444.0 375.2 L445.2 374.6 L446.8 374.3 L448.2 374.4 L449.5 374.7 L451.8 376.1 L453.4 378.5 L454.1 381.2 L453.9 385.0 L452.7 388.5 L451.9 389.8 L450.8 390.9 L449.5 391.6 L448.2 392.0Z"/>
<path stroke="#444" d="M449.2 394.5 L447.5 394.7 L445.8 394.5 L444.0 393.9 L442.5 392.9 L441.0 391.3 L439.9 389.5 L439.1 387.5 L438.6 385.2 L438.5 383.2 L438.7 381.2 L439.1 379.5 L440.1 377.8 L441.3 376.2 L442.8 375.0 L444.5 374.1 L446.2 373.7 L448.0 373.6 L449.5 374.0 L451.0 374.6 L452.5 375.8 L453.7 377.0 L454.6 378.5 L455.3 380.2 L455.7 382.2 L455.8 386.5 L455.4 388.2 L454.7 390.0 L453.8 391.5 L452.5 392.8 L451.0 393.8 L449.2 394.5Z"/>
<path stroke="#666" d="M447.8 417.0 L446.5 416.7 L445.4 415.5 L444.8 413.7 L444.4 411.0 L444.4 408.0 L444.8 405.0 L445.5 402.5 L446.8 400.0 L446.8 399.2 L446.2 398.5 L443.2 396.2 L441.5 394.4 L439.8 392.0 L438.6 389.5 L437.7 386.5 L437.4 383.5 L437.7 380.8 L438.6 378.2 L440.4 376.0 L443.0 374.1 L445.8 373.1 L448.5 373.1 L451.0 373.9 L453.4 375.5 L455.9 378.0 L458.2 381.4 L458.8 381.8 L459.2 381.9 L460.0 381.4 L462.9 378.5 L465.5 376.7 L468.8 375.4 L470.5 375.1 L471.3 375.2 L470.8 380.8 L469.9 384.2 L467.3 390.8 L464.0 397.4 L461.5 401.4 L459.0 404.6 L457.2 406.3 L454.5 408.0 L453.8 408.8 L451.5 413.5 L450.2 415.5 L449.0 416.6 L447.8 417.0Z"/>
<path stroke="#666" d="M452.3 401.2 L452.8 400.7 L453.2 399.2 L453.2 398.5 L452.8 398.0 L452.0 398.0 L450.9 398.5 L450.2 399.0 L450.0 399.5 L450.2 400.1 L451.0 400.9 L451.8 401.3 L452.3 401.2Z"/>
<path stroke="#666" d="M448.2 420.1 L446.2 420.1 L444.3 419.2 L443.1 417.8 L442.3 415.5 L441.6 411.8 L440.1 397.2 L437.3 389.0 L436.6 385.2 L436.5 383.0 L436.8 380.8 L437.4 378.8 L438.2 377.2 L439.5 375.7 L441.5 374.1 L443.5 373.1 L445.8 372.5 L447.8 372.4 L450.0 372.8 L455.8 375.7 L457.8 376.0 L461.2 375.3 L469.0 372.2 L473.4 371.0 L477.8 370.5 L479.5 370.6 L480.8 371.1 L481.4 371.8 L481.6 372.5 L481.0 374.5 L465.5 400.9 L461.2 407.7 L458.0 412.2 L454.7 415.8 L451.0 418.8 L448.2 420.1Z"/>
<path stroke="#666" d="M448.8 421.8 L446.0 421.9 L443.2 421.0 L441.7 419.5 L440.7 417.0 L439.9 412.2 L437.9 395.5 L436.2 388.0 L435.8 385.2 L435.7 382.8 L436.0 380.5 L436.5 378.5 L437.4 376.8 L439.0 375.0 L441.0 373.6 L443.2 372.5 L445.5 371.9 L449.0 372.0 L454.8 373.9 L456.8 374.1 L461.5 373.3 L469.5 370.6 L474.2 369.6 L479.5 369.2 L481.5 369.5 L482.8 370.0 L483.5 370.8 L483.9 372.0 L483.8 373.2 L483.0 375.0 L477.8 384.1 L462.7 409.0 L459.2 413.8 L456.0 417.2 L452.0 420.3 L448.8 421.8Z"/>
<path stroke="#666" d="M448.2 423.8 L445.0 423.7 L441.8 422.6 L440.8 421.9 L440.0 421.0 L439.1 418.5 L438.1 412.8 L434.7 385.2 L434.6 382.8 L434.9 380.2 L435.5 378.0 L436.4 376.2 L438.0 374.5 L440.2 372.9 L442.5 371.8 L445.2 371.1 L448.5 371.1 L453.8 372.3 L455.8 372.4 L461.5 371.5 L469.2 369.1 L473.5 368.4 L480.8 367.8 L483.0 368.1 L484.5 368.7 L485.5 369.8 L486.1 371.2 L485.9 373.0 L485.2 375.0 L480.1 383.8 L463.8 410.5 L460.0 415.8 L456.5 419.3 L452.0 422.4 L450.0 423.3 L448.2 423.8Z"/>
<path stroke="#444" d="M449.0 393.5 L447.2 393.7 L445.5 393.5 L444.0 392.9 L442.5 391.8 L441.2 390.4 L440.2 388.8 L439.5 387.0 L439.1 385.0 L439.0 383.0 L439.2 381.0 L439.8 379.2 L440.6 377.8 L441.9 376.2 L443.2 375.1 L444.8 374.4 L446.5 373.9 L449.2 374.2 L450.8 374.8 L452.1 375.8 L453.2 377.0 L454.0 378.2 L454.9 381.5 L455.0 385.8 L454.6 387.5 L454.0 389.2 L453.1 390.8 L451.9 392.0 L450.5 392.9 L449.0 393.5Z"/>
<path stroke="#444" d="M449.0 394.5 L447.2 394.7 L445.5 394.4 L443.8 393.7 L442.2 392.6 L441.0 391.2 L439.9 389.5 L439.1 387.5 L438.6 385.2 L438.5 383.2 L438.7 381.2 L439.2 379.5 L440.1 377.8 L441.3 376.2 L442.9 375.0 L444.5 374.1 L446.2 373.7 L448.0 373.6 L449.5 374.0 L451.0 374.6 L452.5 375.8 L453.7 377.0 L454.6 378.5 L455.2 380.0 L455.7 382.2 L455.8 384.5 L455.7 386.8 L455.2 388.8 L454.5 390.2 L453.5 391.8 L452.2 393.0 L450.8 393.9 L449.0 394.5Z"/>
<path stroke="#666" d="M449.2 395.8 L447.2 395.9 L445.5 395.6 L443.8 394.8 L442.0 393.5 L440.5 391.7 L439.4 389.8 L438.5 387.5 L438.1 385.2 L438.0 383.2 L438.2 381.2 L438.6 379.5 L439.5 377.8 L441.0 376.0 L442.6 374.8 L444.5 373.8 L446.2 373.4 L448.2 373.4 L450.0 373.8 L451.8 374.7 L453.3 376.0 L454.6 377.5 L455.6 379.2 L456.4 381.5 L456.8 383.8 L456.8 387.8 L456.4 389.5 L455.5 391.2 L454.3 392.8 L452.8 394.1 L451.0 395.2 L449.2 395.8Z"/>
<path stroke="#666" d="M460.2 397.0 L459.8 397.1 L459.4 396.8 L459.0 395.0 L459.4 392.0 L460.3 389.0 L461.8 385.5 L463.2 383.0 L464.8 381.5 L466.0 381.2 L466.6 382.0 L466.7 383.5 L466.3 386.0 L465.5 388.7 L464.2 391.7 L462.8 394.4 L461.5 396.1 L460.2 397.0Z"/>
<path stroke="#666" d="M456.8 405.3 L456.0 405.5 L455.2 405.3 L454.5 404.2 L454.4 402.2 L454.8 397.8 L454.5 396.4 L453.5 396.3 L448.8 398.0 L447.5 398.0 L446.2 397.6 L444.0 396.4 L441.8 394.4 L440.0 392.1 L438.7 389.5 L437.9 387.0 L437.5 384.5 L437.6 382.0 L438.1 379.8 L438.9 378.0 L440.2 376.2 L442.0 374.8 L444.0 373.7 L446.0 373.1 L448.0 373.1 L450.0 373.5 L452.0 374.5 L453.6 375.8 L455.3 377.5 L456.7 379.5 L458.2 382.5 L459.0 383.2 L459.8 382.8 L463.0 379.0 L465.5 377.2 L467.0 376.5 L468.5 376.2 L469.5 376.4 L470.0 377.0 L470.2 379.8 L469.8 382.8 L468.4 387.2 L466.2 392.2 L463.8 397.1 L461.2 401.0 L458.8 404.0 L456.8 405.3Z"/>
<path stroke="#666" d="M447.8 416.5 L446.5 416.1 L445.5 414.8 L444.9 412.5 L444.7 409.2 L445.1 406.2 L445.9 403.8 L447.0 402.2 L448.2 401.8 L449.8 402.5 L451.4 404.5 L452.2 406.2 L452.3 408.0 L451.8 411.2 L450.7 414.0 L449.2 415.9 L447.8 416.5Z"/>
<path stroke="#666" d="M448.2 418.5 L446.8 418.6 L445.2 417.8 L444.2 416.5 L443.6 414.5 L443.0 409.8 L442.6 398.8 L442.0 397.0 L438.5 390.5 L437.7 388.0 L437.2 385.5 L437.0 383.2 L437.3 381.0 L437.8 379.0 L438.6 377.5 L440.1 375.8 L442.0 374.3 L444.0 373.3 L446.0 372.8 L448.5 372.8 L450.8 373.5 L453.0 374.8 L457.0 377.7 L458.8 378.2 L460.5 377.7 L467.3 374.2 L471.9 372.5 L476.0 371.6 L477.5 371.6 L478.8 372.0 L479.4 372.8 L479.2 373.8 L475.6 378.0 L467.2 394.5 L461.5 404.3 L458.0 409.1 L451.9 416.0 L450.0 417.7 L448.2 418.5Z"/>
<path stroke="#666" d="M448.2 420.0 L446.2 420.0 L444.4 419.2 L443.1 417.8 L442.3 415.5 L441.7 411.8 L440.2 397.2 L437.4 389.2 L436.6 385.2 L436.5 383.0 L436.8 380.8 L437.4 378.8 L438.2 377.2 L439.5 375.7 L441.5 374.1 L443.5 373.1 L445.8 372.5 L447.8 372.4 L450.0 372.8 L455.8 375.7 L457.8 376.1 L461.2 375.4 L469.1 372.2 L473.5 371.0 L478.0 370.5 L479.8 370.7 L480.8 371.2 L481.3 371.8 L481.5 372.5 L481.0 374.4 L465.5 400.8 L461.2 407.6 L458.0 412.1 L454.6 415.8 L451.0 418.8 L448.2 420.0Z"/>
<path stroke="#666" d="M448.5 421.3 L446.0 421.3 L443.5 420.4 L442.1 419.0 L441.2 416.5 L440.4 412.2 L438.5 396.0 L436.6 388.5 L436.0 385.2 L436.0 383.0 L436.2 380.8 L436.8 378.8 L437.6 377.0 L439.0 375.4 L441.0 373.9 L443.2 372.7 L445.5 372.1 L447.2 372.0 L449.2 372.2 L455.0 374.4 L457.0 374.7 L461.5 373.9 L469.5 371.1 L474.2 370.0 L479.2 369.6 L481.0 369.9 L482.2 370.4 L483.0 371.2 L483.2 372.2 L483.0 373.5 L482.3 375.0 L467.3 400.5 L462.0 409.0 L458.7 413.5 L455.5 416.9 L451.5 420.0 L448.5 421.3Z"/>
<path stroke="#666" d="M448.0 422.5 L445.2 422.4 L442.5 421.4 L441.0 419.8 L440.1 417.2 L439.3 412.2 L437.2 395.0 L435.4 385.0 L435.4 382.5 L435.7 380.2 L436.3 378.2 L437.2 376.5 L438.8 374.8 L440.8 373.4 L443.0 372.3 L445.5 371.7 L449.0 371.7 L454.2 373.3 L456.5 373.6 L461.5 372.7 L469.5 370.1 L474.5 369.1 L480.2 368.8 L482.2 369.1 L483.5 369.7 L484.4 370.8 L484.7 372.0 L484.4 373.5 L483.6 375.2 L469.4 399.2 L462.4 410.5 L458.8 415.2 L455.5 418.5 L451.5 421.3 L449.8 422.1 L448.0 422.5Z"/>
<path stroke="#666" d="M448.5 423.5 L445.5 423.5 L442.0 422.5 L440.3 421.0 L439.3 418.5 L438.4 413.2 L434.8 385.2 L434.8 382.5 L435.1 380.0 L435.7 378.0 L436.6 376.2 L438.2 374.5 L440.2 373.0 L442.8 371.8 L445.2 371.2 L448.5 371.2 L454.0 372.5 L456.0 372.6 L461.5 371.7 L469.2 369.3 L474.0 368.4 L480.8 368.0 L482.8 368.2 L484.2 368.8 L485.3 369.8 L485.9 371.2 L485.7 373.0 L484.9 375.0 L479.9 383.8 L463.9 410.0 L460.2 415.2 L456.8 418.9 L452.2 422.0 L450.2 423.0 L448.5 423.5Z"/>
<path stroke="#7a7a7a" d="M449.0 424.5 L447.2 424.7 L445.5 424.6 L443.2 424.2 L441.2 423.5 L439.5 422.0 L438.4 419.5 L436.6 407.5 L434.1 385.5 L434.1 382.5 L434.4 380.0 L435.0 377.8 L435.9 376.0 L437.4 374.2 L439.8 372.6 L442.5 371.3 L445.0 370.7 L448.2 370.6 L453.2 371.6 L455.2 371.6 L462.0 370.5 L469.0 368.4 L472.2 367.8 L481.0 367.1 L483.2 367.3 L485.1 368.0 L486.4 369.2 L487.1 371.0 L487.0 372.8 L486.1 375.0 L481.9 382.5 L465.6 409.2 L461.5 415.2 L457.9 419.2 L455.8 421.0 L453.2 422.7 L451.0 423.8 L449.0 424.5Z"/>
</g>
<rect x="454.3" y="354.2" width="57.6" height="41.4" fill="none" stroke="#9a9a9a" stroke-width="0.9"/>
<rect x="425.6" y="360.4" width="28.3" height="45.1" fill="none" stroke="#8a8a8a" stroke-width="0.9"/>
<rect x="426.5" y="406.6" width="27.0" height="30.5" fill="none" stroke="#666" stroke-width="0.9"/>
<line x1="453.9" y1="360.2" x2="453.9" y2="437.4" stroke="#444" stroke-width="1.3"/>
<rect x="428.2" y="356.2" width="10.4" height="12.1" fill="#fff"/>
<rect x="428.2" y="433.8" width="11.3" height="5.5" fill="#fff"/>
<path d="M420.4 350.6 H512.3 V443.0 H420.4 Z" fill="none" stroke="#1a1a1a" stroke-width="1.2"/>
<line x1="417.59999999999997" y1="360.2" x2="420.4" y2="360.2" stroke="#111" stroke-width="1"/>
<text x="411.0" y="363.8" font-size="8.4" text-anchor="end" fill="#222" textLength="6.6" lengthAdjust="spacingAndGlyphs">10</text>
<text x="410.9" y="361.2" font-size="5.4" text-anchor="start" fill="#222">5</text>
<line x1="417.59999999999997" y1="380.9" x2="420.4" y2="380.9" stroke="#111" stroke-width="1"/>
<text x="411.0" y="384.5" font-size="8.4" text-anchor="end" fill="#222" textLength="6.6" lengthAdjust="spacingAndGlyphs">10</text>
<text x="410.9" y="381.9" font-size="5.4" text-anchor="start" fill="#222">4</text>
<line x1="417.59999999999997" y1="406.1" x2="420.4" y2="406.1" stroke="#111" stroke-width="1"/>
<text x="411.0" y="409.7" font-size="8.4" text-anchor="end" fill="#222" textLength="6.6" lengthAdjust="spacingAndGlyphs">10</text>
<text x="410.9" y="407.1" font-size="5.4" text-anchor="start" fill="#222">3</text>
<line x1="417.59999999999997" y1="422.1" x2="420.4" y2="422.1" stroke="#111" stroke-width="1"/>
<text x="414.4" y="425.3" font-size="8.4" text-anchor="end" fill="#222" textLength="4.4" lengthAdjust="spacingAndGlyphs">0</text>
<line x1="417.59999999999997" y1="437.9" x2="420.4" y2="437.9" stroke="#111" stroke-width="1"/>
<text x="411.0" y="441.5" font-size="8.4" text-anchor="end" fill="#222" textLength="9.6" lengthAdjust="spacingAndGlyphs">-10</text>
<text x="410.9" y="438.9" font-size="5.4" text-anchor="start" fill="#222">3</text>
<rect x="418.2" y="420.3" width="2.2" height="3.3" fill="#111"/>
<line x1="418.7" y1="374.7" x2="420.4" y2="374.7" stroke="#222" stroke-width="0.55"/>
<line x1="418.7" y1="371.0" x2="420.4" y2="371.0" stroke="#222" stroke-width="0.55"/>
<line x1="418.7" y1="368.4" x2="420.4" y2="368.4" stroke="#222" stroke-width="0.55"/>
<line x1="418.7" y1="366.4" x2="420.4" y2="366.4" stroke="#222" stroke-width="0.55"/>
<line x1="418.7" y1="364.8" x2="420.4" y2="364.8" stroke="#222" stroke-width="0.55"/>
<line x1="418.7" y1="363.4" x2="420.4" y2="363.4" stroke="#222" stroke-width="0.55"/>
<line x1="418.7" y1="362.2" x2="420.4" y2="362.2" stroke="#222" stroke-width="0.55"/>
<line x1="418.7" y1="361.1" x2="420.4" y2="361.1" stroke="#222" stroke-width="0.55"/>
<line x1="418.7" y1="398.5" x2="420.4" y2="398.5" stroke="#222" stroke-width="0.55"/>
<line x1="418.7" y1="394.1" x2="420.4" y2="394.1" stroke="#222" stroke-width="0.55"/>
<line x1="418.7" y1="390.9" x2="420.4" y2="390.9" stroke="#222" stroke-width="0.55"/>
<line x1="418.7" y1="388.5" x2="420.4" y2="388.5" stroke="#222" stroke-width="0.55"/>
<line x1="418.7" y1="386.5" x2="420.4" y2="386.5" stroke="#222" stroke-width="0.55"/>
<line x1="418.7" y1="384.8" x2="420.4" y2="384.8" stroke="#222" stroke-width="0.55"/>
<line x1="418.7" y1="383.3" x2="420.4" y2="383.3" stroke="#222" stroke-width="0.55"/>
<line x1="418.7" y1="382.1" x2="420.4" y2="382.1" stroke="#222" stroke-width="0.55"/>
<line x1="418.7" y1="354.0" x2="420.4" y2="354.0" stroke="#222" stroke-width="0.55"/>
<line x1="418.7" y1="409.0" x2="420.4" y2="409.0" stroke="#222" stroke-width="0.55"/>
<line x1="418.7" y1="412.0" x2="420.4" y2="412.0" stroke="#222" stroke-width="0.55"/>
<line x1="418.7" y1="414.5" x2="420.4" y2="414.5" stroke="#222" stroke-width="0.55"/>
<line x1="418.7" y1="417.0" x2="420.4" y2="417.0" stroke="#222" stroke-width="0.55"/>
<line x1="418.7" y1="418.8" x2="420.4" y2="418.8" stroke="#222" stroke-width="0.55"/>
<line x1="418.7" y1="425.2" x2="420.4" y2="425.2" stroke="#222" stroke-width="0.55"/>
<line x1="418.7" y1="427.5" x2="420.4" y2="427.5" stroke="#222" stroke-width="0.55"/>
<line x1="418.7" y1="430.5" x2="420.4" y2="430.5" stroke="#222" stroke-width="0.55"/>
<line x1="418.7" y1="433.6" x2="420.4" y2="433.6" stroke="#222" stroke-width="0.55"/>
<line x1="418.7" y1="435.8" x2="420.4" y2="435.8" stroke="#222" stroke-width="0.55"/>
<line x1="420.4" y1="443.0" x2="420.4" y2="445.8" stroke="#111" stroke-width="0.9"/>
<text x="423.6" y="451.2" font-size="7.8" text-anchor="end" fill="#222" textLength="3.90" lengthAdjust="spacingAndGlyphs" transform="rotate(-45 423.6 451.2)">0</text>
<line x1="423.9" y1="443.0" x2="423.9" y2="444.6" stroke="#222" stroke-width="0.55"/>
<line x1="427.4" y1="443.0" x2="427.4" y2="444.6" stroke="#222" stroke-width="0.55"/>
<line x1="430.8" y1="443.0" x2="430.8" y2="444.6" stroke="#222" stroke-width="0.55"/>
<line x1="434.3" y1="443.0" x2="434.3" y2="444.6" stroke="#222" stroke-width="0.55"/>
<line x1="437.8" y1="443.0" x2="437.8" y2="445.8" stroke="#111" stroke-width="0.9"/>
<text x="441.0" y="451.2" font-size="7.8" text-anchor="end" fill="#222" textLength="12.49" lengthAdjust="spacingAndGlyphs" transform="rotate(-45 441.0 451.2)">50K</text>
<line x1="441.3" y1="443.0" x2="441.3" y2="444.6" stroke="#222" stroke-width="0.55"/>
<line x1="444.8" y1="443.0" x2="444.8" y2="444.6" stroke="#222" stroke-width="0.55"/>
<line x1="448.2" y1="443.0" x2="448.2" y2="444.6" stroke="#222" stroke-width="0.55"/>
<line x1="451.7" y1="443.0" x2="451.7" y2="444.6" stroke="#222" stroke-width="0.55"/>
<line x1="455.2" y1="443.0" x2="455.2" y2="445.8" stroke="#111" stroke-width="0.9"/>
<text x="458.4" y="451.2" font-size="7.8" text-anchor="end" fill="#222" textLength="16.39" lengthAdjust="spacingAndGlyphs" transform="rotate(-45 458.4 451.2)">100K</text>
<line x1="458.7" y1="443.0" x2="458.7" y2="444.6" stroke="#222" stroke-width="0.55"/>
<line x1="462.2" y1="443.0" x2="462.2" y2="444.6" stroke="#222" stroke-width="0.55"/>
<line x1="465.6" y1="443.0" x2="465.6" y2="444.6" stroke="#222" stroke-width="0.55"/>
<line x1="469.1" y1="443.0" x2="469.1" y2="444.6" stroke="#222" stroke-width="0.55"/>
<line x1="472.6" y1="443.0" x2="472.6" y2="445.8" stroke="#111" stroke-width="0.9"/>
<text x="475.8" y="451.2" font-size="7.8" text-anchor="end" fill="#222" textLength="16.39" lengthAdjust="spacingAndGlyphs" transform="rotate(-45 475.8 451.2)">150K</text>
<line x1="476.1" y1="443.0" x2="476.1" y2="444.6" stroke="#222" stroke-width="0.55"/>
<line x1="479.6" y1="443.0" x2="479.6" y2="444.6" stroke="#222" stroke-width="0.55"/>
<line x1="483.0" y1="443.0" x2="483.0" y2="444.6" stroke="#222" stroke-width="0.55"/>
<line x1="486.5" y1="443.0" x2="486.5" y2="444.6" stroke="#222" stroke-width="0.55"/>
<line x1="490.0" y1="443.0" x2="490.0" y2="445.8" stroke="#111" stroke-width="0.9"/>
<text x="493.2" y="451.2" font-size="7.8" text-anchor="end" fill="#222" textLength="16.39" lengthAdjust="spacingAndGlyphs" transform="rotate(-45 493.2 451.2)">200K</text>
<line x1="493.5" y1="443.0" x2="493.5" y2="444.6" stroke="#222" stroke-width="0.55"/>
<line x1="497.0" y1="443.0" x2="497.0" y2="444.6" stroke="#222" stroke-width="0.55"/>
<line x1="500.4" y1="443.0" x2="500.4" y2="444.6" stroke="#222" stroke-width="0.55"/>
<line x1="503.9" y1="443.0" x2="503.9" y2="444.6" stroke="#222" stroke-width="0.55"/>
<line x1="507.4" y1="443.0" x2="507.4" y2="445.8" stroke="#111" stroke-width="0.9"/>
<text x="510.6" y="451.2" font-size="7.8" text-anchor="end" fill="#222" textLength="16.39" lengthAdjust="spacingAndGlyphs" transform="rotate(-45 510.6 451.2)">250K</text>
<line x1="510.9" y1="443.0" x2="510.9" y2="444.6" stroke="#222" stroke-width="0.55"/>
<text x="432.7" y="360.4" font-size="6.4" text-anchor="middle" fill="#222">G1</text>
<text x="433.1" y="367.9" font-size="6.4" text-anchor="middle" fill="#222" textLength="10.6" lengthAdjust="spacingAndGlyphs">49.3</text>
<text x="499.3" y="384.2" font-size="6.4" text-anchor="middle" fill="#222" textLength="19.6" lengthAdjust="spacingAndGlyphs">G2\S\M</text>
<text x="499.0" y="392.0" font-size="6.4" text-anchor="middle" fill="#222" textLength="10.6" lengthAdjust="spacingAndGlyphs">31.1</text>
<text x="433.4" y="431.4" font-size="6.4" text-anchor="middle" fill="#222">G0</text>
<text x="433.6" y="438.6" font-size="6.4" text-anchor="middle" fill="#222" textLength="10.6" lengthAdjust="spacingAndGlyphs">10.2</text>
<text x="503.3" y="437.0" font-size="6.4" text-anchor="end" fill="#222" textLength="22.0" lengthAdjust="spacingAndGlyphs">Phf6 KO</text>
<text x="395.8" y="398" font-size="9.8" text-anchor="middle" fill="#222" textLength="19.6" lengthAdjust="spacingAndGlyphs" transform="rotate(-90 395.8 398)">KI-67</text>
<text x="466.6" y="477.1" font-size="9.8" text-anchor="middle" fill="#222" textLength="8.2" lengthAdjust="spacingAndGlyphs">PI</text>
<rect x="0" y="0" width="520" height="1" fill="#4a4a4a"/>
<rect x="0" y="1" width="520" height="1" fill="#000" fill-opacity="0.18"/>
<rect x="0" y="0" width="1" height="487" fill="#0a0a0a"/>
<rect x="1" y="1" width="1" height="485" fill="#000" fill-opacity="0.25"/>
<rect x="519" y="0" width="1" height="487" fill="#3a3a3a"/>
<rect x="518" y="1" width="1" height="485" fill="#000" fill-opacity="0.35"/>
<rect x="0" y="486" width="520" height="1" fill="#0a0a0a"/>
<rect x="1" y="485" width="518" height="1" fill="#000" fill-opacity="0.2"/>
</svg></div></body></html>
